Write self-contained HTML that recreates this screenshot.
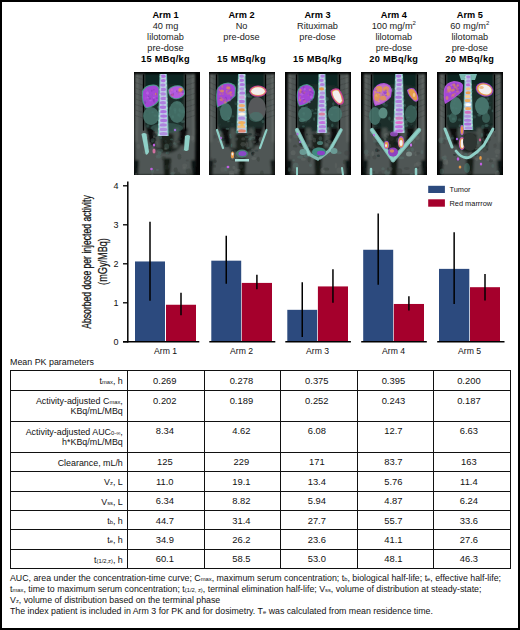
<!DOCTYPE html>
<html><head><meta charset="utf-8"><style>
*{margin:0;padding:0;box-sizing:border-box}
html,body{width:520px;height:630px;background:#fff;overflow:hidden}
body{position:relative;font-family:"Liberation Sans",sans-serif;color:#111}
.frame{position:absolute;left:0;top:0;width:520px;height:630px;border:2px solid #000;pointer-events:none}
.head{position:absolute;top:10.0px;width:80px;text-align:center;font-size:9.2px;line-height:11px;color:#222}
.head b{color:#000;font-weight:bold}
.head sup{font-size:6px;vertical-align:0;position:relative;top:-3.6px;line-height:0}
.scan{position:absolute;display:block}
.chart{position:absolute;overflow:visible}
.chart text{font-family:"Liberation Sans",sans-serif;fill:#111}
.tick{font-size:9px}
.arm{font-size:9.3px}
.leg{font-size:7.4px}
.ylab{font-size:12.3px;stroke:#111;stroke-width:0.25px}
.cap{position:absolute;left:10px;top:357.3px;font-size:8.9px;line-height:11px;color:#111}
.hr{position:absolute;left:9.7px;width:501.2px;height:1.3px;background:#111}
.vr{position:absolute;top:370.2px;height:199px;width:1.3px;background:#111}
.pcell{position:absolute;left:12px;width:110.8px;text-align:right;font-size:8.9px;line-height:10.6px;color:#111}
.vcell{position:absolute;width:60px;text-align:center;font-size:9.4px;line-height:11px;color:#111}
.sb{font-size:5.8px;vertical-align:0;line-height:1}
.mb{letter-spacing:0.35px}
.foot{position:absolute;left:10px;top:573.2px;font-size:8.8px;line-height:11.1px;color:#111;white-space:nowrap}
</style></head>
<body>
<div class="head" style="left:125.5px"><div class="hl"><b>Arm 1</b></div><div class="hl">40 mg</div><div class="hl">lilotomab</div><div class="hl">pre-dose</div><div class="hl"><b class="mb">15 MBq/kg</b></div></div><div class="head" style="left:201.5px"><div class="hl"><b>Arm 2</b></div><div class="hl">No</div><div class="hl">pre-dose</div><div class="hl">&nbsp;</div><div class="hl"><b class="mb">15 MBq/kg</b></div></div><div class="head" style="left:277.5px"><div class="hl"><b>Arm 3</b></div><div class="hl">Rituximab</div><div class="hl">pre-dose</div><div class="hl">&nbsp;</div><div class="hl"><b class="mb">15 MBq/kg</b></div></div><div class="head" style="left:353.8px"><div class="hl"><b>Arm 4</b></div><div class="hl">100 mg/m<sup>2</sup></div><div class="hl">lilotomab</div><div class="hl">pre-dose</div><div class="hl"><b class="mb">20 MBq/kg</b></div></div><div class="head" style="left:429.8px"><div class="hl"><b>Arm 5</b></div><div class="hl">60 mg/m<sup>2</sup></div><div class="hl">lilotomab</div><div class="hl">pre-dose</div><div class="hl"><b class="mb">20 MBq/kg</b></div></div>
<svg class="scan" style="left:134px;top:72px" width="66" height="103" viewBox="0 0 66 103"><defs><filter id="bb0" x="-10%" y="-10%" width="120%" height="120%"><feGaussianBlur stdDeviation="0.9"/></filter><filter id="fb0" x="-10%" y="-10%" width="120%" height="120%"><feGaussianBlur stdDeviation="0.6"/></filter></defs><rect width="66" height="103" fill="#020303"/><g filter="url(#bb0)"><path d="M1,2 L61,2 L61.5,60 L61,103 L1,103 L0.5,60 Z" fill="#4f5654"/><path d="M1.5,2 L3.5,2 L3,70 L1.5,70 Z" fill="#6a706e"/><path d="M58.5,2 L60.5,2 L60.5,70 L59,70 Z" fill="#6a706e"/><path d="M10,2 L51,2 L51,52 L48,60 L13,60 L10,52 Z" fill="#1f2e2b"/><path d="M10,2 L51,2 L51,15 Q33,10 10,15 Z" fill="#0f2724"/><ellipse cx="33" cy="71" rx="14" ry="10" fill="#1a201f"/><path d="M12,56 L20,56 L21,72 L16,74 Z" fill="#0b0e0e"/><path d="M46,56 L54,56 L50,74 L45,72 Z" fill="#0b0e0e"/><path d="M21,56 L26,56 L27,76 L22,76 Z" fill="#4a5250"/><path d="M40,56 L45,56 L44,76 L39,76 Z" fill="#4a5250"/><path d="M29,86 L37,86 L36,103 L30,103 Z" fill="#151a19"/><path d="M1,88 L5,88 L4,103 L1,103 Z" fill="#0e1212"/><path d="M57,88 L61,88 L61,103 L58,103 Z" fill="#0e1212"/></g><g filter="url(#fb0)"><line x1="1.5" y1="5.0" x2="8.5" y2="7.5" stroke="#2a2f2e" stroke-width="0.7" stroke-linecap="round" opacity="0.35"/><line x1="60.5" y1="5.0" x2="52.5" y2="7.5" stroke="#2a2f2e" stroke-width="0.7" stroke-linecap="round" opacity="0.35"/><line x1="1.5" y1="10.5" x2="8.5" y2="13.0" stroke="#2a2f2e" stroke-width="0.7" stroke-linecap="round" opacity="0.35"/><line x1="60.5" y1="10.5" x2="52.5" y2="13.0" stroke="#2a2f2e" stroke-width="0.7" stroke-linecap="round" opacity="0.35"/><line x1="1.5" y1="16.0" x2="8.5" y2="18.5" stroke="#2a2f2e" stroke-width="0.7" stroke-linecap="round" opacity="0.35"/><line x1="60.5" y1="16.0" x2="52.5" y2="18.5" stroke="#2a2f2e" stroke-width="0.7" stroke-linecap="round" opacity="0.35"/><line x1="1.5" y1="21.5" x2="8.5" y2="24.0" stroke="#2a2f2e" stroke-width="0.7" stroke-linecap="round" opacity="0.35"/><line x1="60.5" y1="21.5" x2="52.5" y2="24.0" stroke="#2a2f2e" stroke-width="0.7" stroke-linecap="round" opacity="0.35"/><line x1="1.5" y1="27.0" x2="8.5" y2="29.5" stroke="#2a2f2e" stroke-width="0.7" stroke-linecap="round" opacity="0.35"/><line x1="60.5" y1="27.0" x2="52.5" y2="29.5" stroke="#2a2f2e" stroke-width="0.7" stroke-linecap="round" opacity="0.35"/><line x1="1.5" y1="32.5" x2="8.5" y2="35.0" stroke="#2a2f2e" stroke-width="0.7" stroke-linecap="round" opacity="0.35"/><line x1="60.5" y1="32.5" x2="52.5" y2="35.0" stroke="#2a2f2e" stroke-width="0.7" stroke-linecap="round" opacity="0.35"/><line x1="1.5" y1="38.0" x2="8.5" y2="40.5" stroke="#2a2f2e" stroke-width="0.7" stroke-linecap="round" opacity="0.35"/><line x1="60.5" y1="38.0" x2="52.5" y2="40.5" stroke="#2a2f2e" stroke-width="0.7" stroke-linecap="round" opacity="0.35"/><line x1="1.5" y1="43.5" x2="8.5" y2="46.0" stroke="#2a2f2e" stroke-width="0.7" stroke-linecap="round" opacity="0.35"/><line x1="60.5" y1="43.5" x2="52.5" y2="46.0" stroke="#2a2f2e" stroke-width="0.7" stroke-linecap="round" opacity="0.35"/><line x1="9.5" y1="3" x2="9.5" y2="58" stroke="#050606" stroke-width="1.3" stroke-linecap="round"/><line x1="51.5" y1="3" x2="51.5" y2="58" stroke="#050606" stroke-width="1.3" stroke-linecap="round"/><ellipse cx="16.7" cy="35.1" rx="1.9" ry="1.8" fill="#101816" opacity="0.4"/><ellipse cx="27.9" cy="49.6" rx="1.5" ry="0.9" fill="#3e6660" opacity="0.4"/><ellipse cx="21.3" cy="43.7" rx="1.7" ry="1.1" fill="#4a7a74" opacity="0.4"/><ellipse cx="23.1" cy="48.3" rx="1.1" ry="1.0" fill="#4a7a74" opacity="0.4"/><ellipse cx="45.8" cy="31.5" rx="1.4" ry="2.0" fill="#3e6660" opacity="0.4"/><ellipse cx="48.3" cy="39.3" rx="2.1" ry="1.9" fill="#4a7a74" opacity="0.4"/><ellipse cx="44.4" cy="42.8" rx="1.1" ry="1.6" fill="#4a7a74" opacity="0.4"/><ellipse cx="41.2" cy="39.8" rx="1.1" ry="2.0" fill="#4a7a74" opacity="0.4"/><ellipse cx="48.8" cy="49.6" rx="2.1" ry="1.3" fill="#5a8a82" opacity="0.4"/><ellipse cx="32.6" cy="56.7" rx="1.7" ry="1.8" fill="#5a8a82" opacity="0.4"/><ellipse cx="38.8" cy="45.0" rx="1.3" ry="1.8" fill="#5a8a82" opacity="0.4"/><ellipse cx="44.3" cy="31.2" rx="1.5" ry="1.9" fill="#2a3f3c" opacity="0.4"/><ellipse cx="45.7" cy="43.4" rx="1.2" ry="2.0" fill="#3e6660" opacity="0.4"/><ellipse cx="40.9" cy="37.6" rx="1.5" ry="1.6" fill="#4a7a74" opacity="0.4"/><ellipse cx="13.3" cy="40.6" rx="1.3" ry="0.9" fill="#101816" opacity="0.4"/><ellipse cx="38.5" cy="21.1" rx="0.9" ry="1.6" fill="#4a7a74" opacity="0.4"/><ellipse cx="45.6" cy="38.0" rx="1.1" ry="1.9" fill="#5a8a82" opacity="0.4"/><ellipse cx="24.9" cy="35.1" rx="1.8" ry="1.5" fill="#5a8a82" opacity="0.4"/><ellipse cx="15.6" cy="41.0" rx="0.9" ry="1.8" fill="#2a3f3c" opacity="0.4"/><ellipse cx="26.6" cy="46.0" rx="1.7" ry="1.7" fill="#3e6660" opacity="0.4"/><ellipse cx="47.5" cy="17.6" rx="1.4" ry="0.9" fill="#3e6660" opacity="0.4"/><ellipse cx="45.0" cy="18.0" rx="1.1" ry="1.1" fill="#2a3f3c" opacity="0.4"/><ellipse cx="12.5" cy="24.9" rx="0.9" ry="1.2" fill="#3e6660" opacity="0.4"/><ellipse cx="12.4" cy="33.9" rx="1.4" ry="1.8" fill="#5a8a82" opacity="0.4"/><ellipse cx="18.6" cy="40.3" rx="1.2" ry="1.0" fill="#4a7a74" opacity="0.4"/><ellipse cx="43.3" cy="19.3" rx="2.2" ry="1.2" fill="#3e6660" opacity="0.4"/><ellipse cx="44.1" cy="51.4" rx="0.9" ry="1.1" fill="#2a3f3c" opacity="0.4"/><ellipse cx="26.2" cy="27.4" rx="1.2" ry="1.2" fill="#2a3f3c" opacity="0.4"/><ellipse cx="49.7" cy="39.5" rx="1.1" ry="0.8" fill="#2a3f3c" opacity="0.4"/><ellipse cx="19.6" cy="43.1" rx="1.8" ry="0.8" fill="#2a3f3c" opacity="0.4"/><ellipse cx="43.0" cy="30.8" rx="1.7" ry="1.4" fill="#4a7a74" opacity="0.4"/><ellipse cx="46.3" cy="19.5" rx="1.8" ry="2.0" fill="#5a8a82" opacity="0.4"/><ellipse cx="16.6" cy="53.4" rx="0.8" ry="1.8" fill="#101816" opacity="0.4"/><ellipse cx="30.8" cy="23.3" rx="1.3" ry="1.4" fill="#4a7a74" opacity="0.4"/><ellipse cx="46.5" cy="41.2" rx="1.6" ry="2.1" fill="#2a3f3c" opacity="0.4"/><ellipse cx="35.4" cy="42.6" rx="1.0" ry="1.6" fill="#5a8a82" opacity="0.4"/><ellipse cx="30.7" cy="43.4" rx="1.0" ry="1.0" fill="#5a8a82" opacity="0.4"/><ellipse cx="19.7" cy="32.5" rx="1.4" ry="1.8" fill="#2a3f3c" opacity="0.4"/><ellipse cx="13.7" cy="54.1" rx="1.4" ry="1.6" fill="#3e6660" opacity="0.4"/><ellipse cx="15.1" cy="19.7" rx="1.7" ry="0.9" fill="#5a8a82" opacity="0.4"/><ellipse cx="43.6" cy="22.2" rx="2.2" ry="1.6" fill="#4a7a74" opacity="0.4"/><ellipse cx="17.6" cy="55.9" rx="1.8" ry="1.3" fill="#2a3f3c" opacity="0.4"/><ellipse cx="36.2" cy="36.3" rx="1.3" ry="1.7" fill="#3e6660" opacity="0.4"/><ellipse cx="46.7" cy="27.8" rx="1.8" ry="1.9" fill="#101816" opacity="0.4"/><ellipse cx="19.9" cy="54.4" rx="1.1" ry="1.0" fill="#2a3f3c" opacity="0.4"/><ellipse cx="18.8" cy="75.9" rx="0.9" ry="1.5" fill="#5a6260" opacity="0.4"/><ellipse cx="21.7" cy="63.0" rx="2.1" ry="2.0" fill="#0e1414" opacity="0.4"/><ellipse cx="15.1" cy="73.6" rx="2.1" ry="1.9" fill="#4a7a74" opacity="0.4"/><ellipse cx="15.5" cy="74.7" rx="1.1" ry="2.2" fill="#2a3a38" opacity="0.4"/><ellipse cx="18.3" cy="70.1" rx="1.2" ry="1.7" fill="#2a3a38" opacity="0.4"/><ellipse cx="25.6" cy="81.4" rx="1.8" ry="2.1" fill="#4a7a74" opacity="0.4"/><ellipse cx="26.4" cy="65.4" rx="1.6" ry="1.7" fill="#4a7a74" opacity="0.4"/><ellipse cx="49.5" cy="77.7" rx="0.9" ry="1.2" fill="#4a7a74" opacity="0.4"/><ellipse cx="25.9" cy="65.4" rx="1.0" ry="2.1" fill="#2a3a38" opacity="0.4"/><ellipse cx="21.8" cy="73.4" rx="1.5" ry="1.6" fill="#2a3a38" opacity="0.4"/><ellipse cx="45.7" cy="71.7" rx="1.3" ry="0.9" fill="#2a3a38" opacity="0.4"/><ellipse cx="30.2" cy="70.4" rx="1.1" ry="1.1" fill="#0e1414" opacity="0.4"/><ellipse cx="23.6" cy="83.0" rx="1.4" ry="2.1" fill="#5a6260" opacity="0.4"/><ellipse cx="23.9" cy="62.6" rx="1.2" ry="2.0" fill="#4a7a74" opacity="0.4"/><ellipse cx="16.0" cy="71.2" rx="1.8" ry="1.0" fill="#5a6260" opacity="0.4"/><ellipse cx="28.1" cy="79.0" rx="1.5" ry="1.4" fill="#2a3a38" opacity="0.4"/><ellipse cx="31.7" cy="69.4" rx="1.2" ry="1.6" fill="#2a3a38" opacity="0.4"/><ellipse cx="44.0" cy="69.8" rx="2.1" ry="1.2" fill="#5a6260" opacity="0.4"/><ellipse cx="35.9" cy="77.9" rx="1.2" ry="1.4" fill="#0e1414" opacity="0.4"/><ellipse cx="20.0" cy="64.8" rx="1.1" ry="1.5" fill="#5a6260" opacity="0.4"/><ellipse cx="37.5" cy="67.4" rx="1.5" ry="0.9" fill="#4a7a74" opacity="0.4"/><ellipse cx="20.7" cy="67.4" rx="0.8" ry="1.9" fill="#0e1414" opacity="0.4"/><ellipse cx="45.7" cy="66.8" rx="2.1" ry="1.3" fill="#2a3a38" opacity="0.4"/><ellipse cx="36.6" cy="72.5" rx="1.8" ry="2.0" fill="#2a3a38" opacity="0.4"/><ellipse cx="33.3" cy="81.0" rx="1.8" ry="1.3" fill="#4a7a74" opacity="0.4"/><ellipse cx="25.4" cy="61.7" rx="2.9" ry="2.9" fill="#5a7a76" opacity="0.35"/><ellipse cx="43.7" cy="102.2" rx="2.7" ry="2.6" fill="#2a302e" opacity="0.35"/><ellipse cx="38.4" cy="101.5" rx="2.0" ry="1.6" fill="#5a7a76" opacity="0.35"/><ellipse cx="41.7" cy="97.9" rx="2.0" ry="2.3" fill="#2a302e" opacity="0.35"/><ellipse cx="12.6" cy="63.9" rx="2.0" ry="2.3" fill="#707674" opacity="0.35"/><ellipse cx="32.7" cy="74.6" rx="2.4" ry="3.0" fill="#5a7a76" opacity="0.35"/><ellipse cx="4.3" cy="74.3" rx="1.8" ry="2.6" fill="#646a68" opacity="0.35"/><ellipse cx="50.7" cy="94.0" rx="2.5" ry="2.4" fill="#646a68" opacity="0.35"/><ellipse cx="23.4" cy="98.1" rx="1.6" ry="1.0" fill="#5a7a76" opacity="0.35"/><ellipse cx="18.7" cy="68.5" rx="1.9" ry="2.3" fill="#5a7a76" opacity="0.35"/><ellipse cx="51.1" cy="65.4" rx="1.3" ry="2.6" fill="#2a302e" opacity="0.35"/><ellipse cx="24.6" cy="61.1" rx="1.8" ry="1.2" fill="#5a7a76" opacity="0.35"/><ellipse cx="57.5" cy="66.1" rx="2.7" ry="2.5" fill="#707674" opacity="0.35"/><ellipse cx="50.1" cy="96.0" rx="1.8" ry="1.6" fill="#646a68" opacity="0.35"/><ellipse cx="24.3" cy="84.7" rx="2.6" ry="1.9" fill="#5a7a76" opacity="0.35"/><ellipse cx="35.1" cy="93.4" rx="1.1" ry="2.5" fill="#3a403e" opacity="0.35"/><ellipse cx="31.5" cy="76.7" rx="1.4" ry="1.2" fill="#707674" opacity="0.35"/><ellipse cx="40.9" cy="71.5" rx="2.0" ry="1.3" fill="#5a7a76" opacity="0.35"/><ellipse cx="29.7" cy="86.4" rx="2.1" ry="2.3" fill="#2a302e" opacity="0.35"/><ellipse cx="22.3" cy="72.0" rx="1.8" ry="3.0" fill="#646a68" opacity="0.35"/><ellipse cx="2.0" cy="102.1" rx="1.1" ry="1.7" fill="#646a68" opacity="0.35"/><ellipse cx="25.9" cy="78.8" rx="3.0" ry="2.0" fill="#5a7a76" opacity="0.35"/><ellipse cx="22.8" cy="60.5" rx="1.8" ry="2.0" fill="#646a68" opacity="0.35"/><ellipse cx="53.2" cy="88.5" rx="1.5" ry="1.1" fill="#3a403e" opacity="0.35"/><ellipse cx="32.6" cy="95.1" rx="2.7" ry="2.5" fill="#2a302e" opacity="0.35"/><ellipse cx="54.4" cy="99.3" rx="2.6" ry="2.8" fill="#2a302e" opacity="0.35"/><ellipse cx="36.2" cy="89.0" rx="1.4" ry="2.3" fill="#2a302e" opacity="0.35"/><ellipse cx="45.3" cy="84.7" rx="2.0" ry="2.9" fill="#2a302e" opacity="0.35"/><ellipse cx="20.3" cy="73.8" rx="1.6" ry="1.2" fill="#2a302e" opacity="0.35"/><ellipse cx="57.3" cy="102.1" rx="2.3" ry="1.5" fill="#2a302e" opacity="0.35"/><ellipse cx="10.5" cy="80.2" rx="1.3" ry="1.7" fill="#707674" opacity="0.35"/><ellipse cx="44.1" cy="70.4" rx="2.8" ry="2.4" fill="#2a302e" opacity="0.35"/><ellipse cx="18.5" cy="99.0" rx="1.6" ry="2.1" fill="#5a7a76" opacity="0.35"/><ellipse cx="18.3" cy="102.8" rx="1.1" ry="1.8" fill="#646a68" opacity="0.35"/><ellipse cx="34.5" cy="80.7" rx="1.6" ry="1.8" fill="#3a403e" opacity="0.35"/></g><g filter="url(#fb0)"><ellipse cx="17" cy="44" rx="8" ry="9" fill="#4a7a72" opacity="0.8"/><ellipse cx="43" cy="40" rx="8" ry="11" fill="#4a7a72" opacity="0.8"/><ellipse cx="33" cy="56" rx="16" ry="5" fill="#3b625c" opacity="0.6"/><path d="M8,19 Q11,12 20,12.5 Q25,13 25.5,17 L25,29 Q21,35 12,36.5 Q7,32 8,19 Z" fill="#4c9a8c"/><path d="M9,19.5 Q12,13.5 20,13.5 Q24,14 24.5,17.5 L24,28.5 Q20,34 12.5,35.5 Q8,31 9,19.5 Z" fill="#a446d6"/><ellipse cx="22" cy="22" rx="1.2" ry="1.2" fill="#e49a4a" opacity="0.7"/><ellipse cx="11.5" cy="26.2" rx="1.1" ry="1.5" fill="#b050d8" opacity="0.5"/><ellipse cx="18.8" cy="32.3" rx="1.2" ry="1.4" fill="#b050d8" opacity="0.5"/><ellipse cx="19.7" cy="27.1" rx="1.1" ry="1.5" fill="#7a3ab0" opacity="0.5"/><ellipse cx="12.9" cy="18.2" rx="1.6" ry="1.3" fill="#b050d8" opacity="0.5"/><ellipse cx="14.4" cy="21.4" rx="1.4" ry="0.7" fill="#7a3ab0" opacity="0.5"/><ellipse cx="22.9" cy="26.1" rx="1.4" ry="0.9" fill="#7a3ab0" opacity="0.5"/><ellipse cx="13.9" cy="21.6" rx="1.2" ry="1.1" fill="#c070e8" opacity="0.5"/><ellipse cx="14.0" cy="18.2" rx="1.0" ry="1.2" fill="#8a60c0" opacity="0.5"/><ellipse cx="18.3" cy="22.8" rx="0.9" ry="0.8" fill="#8a60c0" opacity="0.5"/><ellipse cx="16.0" cy="26.6" rx="1.0" ry="1.4" fill="#7a3ab0" opacity="0.5"/><ellipse cx="11.3" cy="30.4" rx="0.8" ry="1.5" fill="#7a3ab0" opacity="0.5"/><ellipse cx="20.6" cy="26.0" rx="1.0" ry="1.2" fill="#b050d8" opacity="0.5"/><ellipse cx="18.3" cy="31.8" rx="0.7" ry="0.9" fill="#8a60c0" opacity="0.5"/><ellipse cx="22.4" cy="22.1" rx="0.7" ry="1.3" fill="#7a3ab0" opacity="0.5"/><ellipse cx="21.3" cy="24.5" rx="0.8" ry="1.2" fill="#b050d8" opacity="0.5"/><ellipse cx="13.6" cy="25.4" rx="1.0" ry="1.0" fill="#c070e8" opacity="0.5"/><ellipse cx="11.0" cy="30.1" rx="0.9" ry="1.6" fill="#7a3ab0" opacity="0.5"/><ellipse cx="17.8" cy="18.8" rx="0.8" ry="1.0" fill="#7a3ab0" opacity="0.5"/><ellipse cx="19.9" cy="17.7" rx="0.6" ry="0.7" fill="#7a3ab0" opacity="0.5"/><ellipse cx="15.9" cy="24.4" rx="1.4" ry="1.0" fill="#8a60c0" opacity="0.5"/><ellipse cx="19.4" cy="26.1" rx="0.6" ry="1.0" fill="#c070e8" opacity="0.5"/><ellipse cx="14.7" cy="21.5" rx="1.4" ry="0.7" fill="#b050d8" opacity="0.5"/><ellipse cx="12.3" cy="29.2" rx="1.5" ry="1.4" fill="#8a60c0" opacity="0.5"/><ellipse cx="16.5" cy="28.4" rx="1.3" ry="1.0" fill="#c070e8" opacity="0.5"/><ellipse cx="14.6" cy="24.3" rx="0.7" ry="0.6" fill="#7a3ab0" opacity="0.5"/><ellipse cx="19.8" cy="22.9" rx="0.9" ry="1.4" fill="#b050d8" opacity="0.5"/><ellipse cx="13.4" cy="20.9" rx="1.5" ry="1.6" fill="#c070e8" opacity="0.5"/><ellipse cx="19.9" cy="28.9" rx="0.9" ry="1.5" fill="#7a3ab0" opacity="0.5"/><ellipse cx="16.8" cy="25.2" rx="1.0" ry="0.8" fill="#8a60c0" opacity="0.5"/><ellipse cx="20.1" cy="25.5" rx="0.7" ry="0.7" fill="#c070e8" opacity="0.5"/><path d="M34,18 Q38,12.5 46,13.5 Q51,15 51,22 Q48,28 40,27 Q34,25 34,18 Z" fill="#4c9a8c"/><path d="M35,18 Q39,13.5 46,14.5 Q50,16 50,22 Q47,27 40,26 Q35,24 35,18 Z" fill="#b35ae0"/><ellipse cx="46.5" cy="18" rx="2.3" ry="2" fill="#e49a4a"/><ellipse cx="38" cy="23" rx="1.5" ry="1.5" fill="#c05ab0"/><ellipse cx="36.4" cy="20.6" rx="0.9" ry="1.0" fill="#d06090" opacity="0.5"/><ellipse cx="46.9" cy="19.9" rx="1.4" ry="1.3" fill="#d06090" opacity="0.5"/><ellipse cx="37.8" cy="17.8" rx="1.2" ry="1.6" fill="#d06090" opacity="0.5"/><ellipse cx="39.3" cy="22.2" rx="0.7" ry="1.4" fill="#7a3ab0" opacity="0.5"/><ellipse cx="47.2" cy="21.9" rx="1.3" ry="1.4" fill="#c070e8" opacity="0.5"/><ellipse cx="47.7" cy="22.5" rx="1.1" ry="0.7" fill="#d06090" opacity="0.5"/><ellipse cx="48.8" cy="19.6" rx="1.3" ry="1.6" fill="#7a3ab0" opacity="0.5"/><ellipse cx="35.6" cy="18.8" rx="0.8" ry="1.3" fill="#d06090" opacity="0.5"/><ellipse cx="44.7" cy="20.7" rx="1.0" ry="1.0" fill="#7a3ab0" opacity="0.5"/><ellipse cx="38.0" cy="18.0" rx="1.1" ry="1.2" fill="#c070e8" opacity="0.5"/><ellipse cx="44.7" cy="21.1" rx="0.9" ry="1.5" fill="#d06090" opacity="0.5"/><ellipse cx="44.9" cy="17.7" rx="0.7" ry="0.8" fill="#c070e8" opacity="0.5"/><ellipse cx="38.7" cy="22.7" rx="0.8" ry="1.0" fill="#d06090" opacity="0.5"/><ellipse cx="42.8" cy="19.3" rx="0.8" ry="1.0" fill="#7a3ab0" opacity="0.5"/><ellipse cx="37.3" cy="22.8" rx="1.4" ry="0.8" fill="#7a3ab0" opacity="0.5"/><ellipse cx="45.2" cy="21.2" rx="0.9" ry="0.9" fill="#c070e8" opacity="0.5"/><ellipse cx="41.0" cy="19.1" rx="1.0" ry="0.9" fill="#c070e8" opacity="0.5"/><ellipse cx="36.4" cy="21.1" rx="0.8" ry="1.6" fill="#c070e8" opacity="0.5"/><path d="M25.5,2 L33.0,2 L34.7,64 L23.8,64 Z" fill="#6cb0a8"/><path d="M26.5,2 L32.0,2 L33.7,64 L24.8,64 Z" fill="#bccbe4"/><ellipse cx="29.1" cy="4.2" rx="2.5" ry="1.7" fill="#a862dc" opacity="0.83"/><ellipse cx="26.6" cy="4.6" rx="0.9" ry="1.2" fill="#bfe6dc" opacity="0.7"/><ellipse cx="29.3" cy="8.6" rx="2.6" ry="1.7" fill="#a862dc" opacity="0.83"/><ellipse cx="32.0" cy="9.5" rx="0.9" ry="1.2" fill="#bfe6dc" opacity="0.7"/><ellipse cx="29.0" cy="13.1" rx="2.8" ry="1.7" fill="#a862dc" opacity="0.65"/><ellipse cx="32.1" cy="13.4" rx="0.9" ry="1.2" fill="#bfe6dc" opacity="0.7"/><ellipse cx="29.3" cy="17.5" rx="2.9" ry="1.7" fill="#a862dc" opacity="0.76"/><ellipse cx="26.3" cy="17.4" rx="0.9" ry="1.2" fill="#bfe6dc" opacity="0.7"/><ellipse cx="28.9" cy="21.9" rx="3.0" ry="1.7" fill="#a862dc" opacity="0.66"/><ellipse cx="26.2" cy="22.6" rx="0.9" ry="1.2" fill="#bfe6dc" opacity="0.7"/><ellipse cx="29.6" cy="26.4" rx="3.1" ry="1.7" fill="#a862dc" opacity="0.76"/><ellipse cx="32.5" cy="26.8" rx="0.9" ry="1.2" fill="#bfe6dc" opacity="0.7"/><ellipse cx="29.0" cy="30.8" rx="3.2" ry="1.7" fill="#a862dc" opacity="0.73"/><ellipse cx="32.6" cy="30.5" rx="0.9" ry="1.2" fill="#bfe6dc" opacity="0.7"/><ellipse cx="29.0" cy="35.2" rx="3.4" ry="1.7" fill="#a862dc" opacity="0.83"/><ellipse cx="32.7" cy="35.9" rx="0.9" ry="1.2" fill="#bfe6dc" opacity="0.7"/><ellipse cx="29.1" cy="39.6" rx="3.5" ry="1.7" fill="#a862dc" opacity="0.84"/><ellipse cx="25.7" cy="39.1" rx="0.9" ry="1.2" fill="#bfe6dc" opacity="0.7"/><ellipse cx="29.6" cy="44.1" rx="3.6" ry="1.7" fill="#a862dc" opacity="0.80"/><ellipse cx="25.5" cy="44.1" rx="0.9" ry="1.2" fill="#bfe6dc" opacity="0.7"/><ellipse cx="29.6" cy="48.5" rx="3.7" ry="1.7" fill="#a862dc" opacity="0.82"/><ellipse cx="25.4" cy="48.5" rx="0.9" ry="1.2" fill="#bfe6dc" opacity="0.7"/><ellipse cx="29.1" cy="52.9" rx="3.8" ry="1.7" fill="#a862dc" opacity="0.68"/><ellipse cx="25.3" cy="52.5" rx="0.9" ry="1.2" fill="#bfe6dc" opacity="0.7"/><ellipse cx="29.3" cy="57.4" rx="4.0" ry="1.7" fill="#a862dc" opacity="0.57"/><ellipse cx="25.2" cy="57.1" rx="0.9" ry="1.2" fill="#bfe6dc" opacity="0.7"/><ellipse cx="29.5" cy="61.8" rx="4.1" ry="1.7" fill="#a862dc" opacity="0.59"/><ellipse cx="25.1" cy="62.8" rx="0.9" ry="1.2" fill="#bfe6dc" opacity="0.7"/><path d="M7.5,62 Q10,60 12.5,62 L15,80 Q13,84 11.5,82 Z" fill="#8fd0c7"/><path d="M51,64 Q54,62 56,64 L54.5,78 Q52,80 50,78 Z" fill="#8fd0c7"/><ellipse cx="20" cy="73" rx="1.2" ry="1.5" fill="#c060e0"/><ellipse cx="20" cy="79" rx="1.5" ry="2.5" fill="#d070a0"/><ellipse cx="17.5" cy="97" rx="1.3" ry="1.3" fill="#c060e0"/><ellipse cx="41" cy="58" rx="1.2" ry="1.2" fill="#a070e0"/></g></svg><svg class="scan" style="left:209px;top:72px" width="66" height="103" viewBox="0 0 66 103"><defs><filter id="bb1" x="-10%" y="-10%" width="120%" height="120%"><feGaussianBlur stdDeviation="0.9"/></filter><filter id="fb1" x="-10%" y="-10%" width="120%" height="120%"><feGaussianBlur stdDeviation="0.6"/></filter></defs><rect width="66" height="103" fill="#020303"/><g filter="url(#bb1)"><path d="M0.5,2 L65.5,2 L66.0,60 L65.5,103 L0.5,103 L0.0,60 Z" fill="#4f5654"/><path d="M1.0,2 L3.0,2 L2.5,70 L1.0,70 Z" fill="#6a706e"/><path d="M63.0,2 L65.0,2 L65.0,70 L63.5,70 Z" fill="#6a706e"/><path d="M8,2 L56,2 L56,52 L53,60 L11,60 L8,52 Z" fill="#1f2e2b"/><path d="M8,2 L56,2 L56,15 Q33,10 8,15 Z" fill="#0f2724"/><ellipse cx="33" cy="71" rx="14" ry="10" fill="#1a201f"/><path d="M12,56 L20,56 L21,72 L16,74 Z" fill="#0b0e0e"/><path d="M46,56 L54,56 L50,74 L45,72 Z" fill="#0b0e0e"/><path d="M21,56 L26,56 L27,76 L22,76 Z" fill="#4a5250"/><path d="M40,56 L45,56 L44,76 L39,76 Z" fill="#4a5250"/><path d="M29,86 L37,86 L36,103 L30,103 Z" fill="#151a19"/><path d="M0.5,88 L4.5,88 L3.5,103 L0.5,103 Z" fill="#0e1212"/><path d="M61.5,88 L65.5,88 L65.5,103 L62.5,103 Z" fill="#0e1212"/></g><g filter="url(#fb1)"><line x1="1.0" y1="5.0" x2="6.5" y2="7.5" stroke="#2a2f2e" stroke-width="0.7" stroke-linecap="round" opacity="0.35"/><line x1="65.0" y1="5.0" x2="57.5" y2="7.5" stroke="#2a2f2e" stroke-width="0.7" stroke-linecap="round" opacity="0.35"/><line x1="1.0" y1="10.5" x2="6.5" y2="13.0" stroke="#2a2f2e" stroke-width="0.7" stroke-linecap="round" opacity="0.35"/><line x1="65.0" y1="10.5" x2="57.5" y2="13.0" stroke="#2a2f2e" stroke-width="0.7" stroke-linecap="round" opacity="0.35"/><line x1="1.0" y1="16.0" x2="6.5" y2="18.5" stroke="#2a2f2e" stroke-width="0.7" stroke-linecap="round" opacity="0.35"/><line x1="65.0" y1="16.0" x2="57.5" y2="18.5" stroke="#2a2f2e" stroke-width="0.7" stroke-linecap="round" opacity="0.35"/><line x1="1.0" y1="21.5" x2="6.5" y2="24.0" stroke="#2a2f2e" stroke-width="0.7" stroke-linecap="round" opacity="0.35"/><line x1="65.0" y1="21.5" x2="57.5" y2="24.0" stroke="#2a2f2e" stroke-width="0.7" stroke-linecap="round" opacity="0.35"/><line x1="1.0" y1="27.0" x2="6.5" y2="29.5" stroke="#2a2f2e" stroke-width="0.7" stroke-linecap="round" opacity="0.35"/><line x1="65.0" y1="27.0" x2="57.5" y2="29.5" stroke="#2a2f2e" stroke-width="0.7" stroke-linecap="round" opacity="0.35"/><line x1="1.0" y1="32.5" x2="6.5" y2="35.0" stroke="#2a2f2e" stroke-width="0.7" stroke-linecap="round" opacity="0.35"/><line x1="65.0" y1="32.5" x2="57.5" y2="35.0" stroke="#2a2f2e" stroke-width="0.7" stroke-linecap="round" opacity="0.35"/><line x1="1.0" y1="38.0" x2="6.5" y2="40.5" stroke="#2a2f2e" stroke-width="0.7" stroke-linecap="round" opacity="0.35"/><line x1="65.0" y1="38.0" x2="57.5" y2="40.5" stroke="#2a2f2e" stroke-width="0.7" stroke-linecap="round" opacity="0.35"/><line x1="1.0" y1="43.5" x2="6.5" y2="46.0" stroke="#2a2f2e" stroke-width="0.7" stroke-linecap="round" opacity="0.35"/><line x1="65.0" y1="43.5" x2="57.5" y2="46.0" stroke="#2a2f2e" stroke-width="0.7" stroke-linecap="round" opacity="0.35"/><line x1="7.5" y1="3" x2="7.5" y2="58" stroke="#050606" stroke-width="1.3" stroke-linecap="round"/><line x1="56.5" y1="3" x2="56.5" y2="58" stroke="#050606" stroke-width="1.3" stroke-linecap="round"/><ellipse cx="35.7" cy="24.2" rx="2.2" ry="2.1" fill="#3e6660" opacity="0.4"/><ellipse cx="11.2" cy="37.1" rx="1.6" ry="2.1" fill="#3e6660" opacity="0.4"/><ellipse cx="40.9" cy="24.9" rx="2.2" ry="0.9" fill="#4a7a74" opacity="0.4"/><ellipse cx="16.4" cy="34.7" rx="1.6" ry="1.1" fill="#101816" opacity="0.4"/><ellipse cx="20.0" cy="49.2" rx="1.4" ry="0.9" fill="#3e6660" opacity="0.4"/><ellipse cx="23.0" cy="20.7" rx="2.0" ry="1.8" fill="#101816" opacity="0.4"/><ellipse cx="27.2" cy="31.9" rx="1.4" ry="1.4" fill="#3e6660" opacity="0.4"/><ellipse cx="9.3" cy="35.5" rx="1.5" ry="1.3" fill="#2a3f3c" opacity="0.4"/><ellipse cx="26.1" cy="31.1" rx="1.2" ry="1.9" fill="#2a3f3c" opacity="0.4"/><ellipse cx="28.9" cy="27.7" rx="1.9" ry="1.4" fill="#101816" opacity="0.4"/><ellipse cx="50.2" cy="39.9" rx="1.0" ry="2.0" fill="#5a8a82" opacity="0.4"/><ellipse cx="23.3" cy="52.5" rx="1.8" ry="1.8" fill="#2a3f3c" opacity="0.4"/><ellipse cx="52.9" cy="18.8" rx="1.6" ry="1.5" fill="#3e6660" opacity="0.4"/><ellipse cx="47.6" cy="21.0" rx="1.8" ry="1.9" fill="#3e6660" opacity="0.4"/><ellipse cx="45.4" cy="21.9" rx="1.1" ry="1.9" fill="#5a8a82" opacity="0.4"/><ellipse cx="29.5" cy="53.4" rx="1.0" ry="2.1" fill="#101816" opacity="0.4"/><ellipse cx="24.5" cy="18.8" rx="1.6" ry="1.8" fill="#101816" opacity="0.4"/><ellipse cx="30.3" cy="24.1" rx="1.8" ry="1.3" fill="#101816" opacity="0.4"/><ellipse cx="52.1" cy="26.5" rx="1.1" ry="1.0" fill="#101816" opacity="0.4"/><ellipse cx="20.2" cy="27.8" rx="2.2" ry="1.0" fill="#2a3f3c" opacity="0.4"/><ellipse cx="38.1" cy="52.0" rx="1.4" ry="1.6" fill="#101816" opacity="0.4"/><ellipse cx="20.0" cy="27.5" rx="1.7" ry="1.6" fill="#5a8a82" opacity="0.4"/><ellipse cx="23.5" cy="16.8" rx="1.0" ry="1.3" fill="#101816" opacity="0.4"/><ellipse cx="50.1" cy="32.8" rx="0.9" ry="1.1" fill="#2a3f3c" opacity="0.4"/><ellipse cx="18.9" cy="43.9" rx="1.0" ry="1.0" fill="#2a3f3c" opacity="0.4"/><ellipse cx="29.6" cy="43.9" rx="1.7" ry="1.8" fill="#101816" opacity="0.4"/><ellipse cx="32.6" cy="42.3" rx="1.1" ry="1.4" fill="#5a8a82" opacity="0.4"/><ellipse cx="23.6" cy="44.4" rx="1.8" ry="1.1" fill="#3e6660" opacity="0.4"/><ellipse cx="18.4" cy="56.9" rx="1.9" ry="1.1" fill="#5a8a82" opacity="0.4"/><ellipse cx="54.7" cy="47.1" rx="1.4" ry="1.7" fill="#101816" opacity="0.4"/><ellipse cx="34.4" cy="24.6" rx="0.8" ry="2.1" fill="#5a8a82" opacity="0.4"/><ellipse cx="51.4" cy="18.4" rx="1.4" ry="1.4" fill="#101816" opacity="0.4"/><ellipse cx="44.4" cy="56.1" rx="1.5" ry="1.9" fill="#2a3f3c" opacity="0.4"/><ellipse cx="10.6" cy="52.5" rx="1.6" ry="1.0" fill="#2a3f3c" opacity="0.4"/><ellipse cx="53.9" cy="49.5" rx="1.3" ry="1.8" fill="#4a7a74" opacity="0.4"/><ellipse cx="30.6" cy="57.0" rx="1.0" ry="0.8" fill="#101816" opacity="0.4"/><ellipse cx="19.0" cy="49.4" rx="0.9" ry="1.1" fill="#4a7a74" opacity="0.4"/><ellipse cx="39.0" cy="23.2" rx="2.1" ry="1.9" fill="#4a7a74" opacity="0.4"/><ellipse cx="29.6" cy="17.6" rx="1.1" ry="1.5" fill="#5a8a82" opacity="0.4"/><ellipse cx="49.5" cy="20.4" rx="1.5" ry="0.8" fill="#5a8a82" opacity="0.4"/><ellipse cx="50.6" cy="40.2" rx="1.5" ry="1.0" fill="#2a3f3c" opacity="0.4"/><ellipse cx="54.5" cy="34.8" rx="1.6" ry="2.0" fill="#5a8a82" opacity="0.4"/><ellipse cx="36.7" cy="57.7" rx="1.4" ry="1.0" fill="#2a3f3c" opacity="0.4"/><ellipse cx="14.4" cy="44.8" rx="0.9" ry="0.9" fill="#101816" opacity="0.4"/><ellipse cx="19.8" cy="46.4" rx="1.3" ry="1.6" fill="#4a7a74" opacity="0.4"/><ellipse cx="44.3" cy="81.3" rx="1.8" ry="1.8" fill="#0e1414" opacity="0.4"/><ellipse cx="40.5" cy="67.3" rx="1.3" ry="1.1" fill="#4a7a74" opacity="0.4"/><ellipse cx="21.6" cy="65.3" rx="1.0" ry="1.4" fill="#4a7a74" opacity="0.4"/><ellipse cx="47.6" cy="78.7" rx="1.9" ry="1.1" fill="#2a3a38" opacity="0.4"/><ellipse cx="22.5" cy="73.6" rx="0.8" ry="2.0" fill="#4a7a74" opacity="0.4"/><ellipse cx="23.7" cy="80.1" rx="1.8" ry="2.1" fill="#0e1414" opacity="0.4"/><ellipse cx="43.4" cy="81.8" rx="1.4" ry="2.1" fill="#0e1414" opacity="0.4"/><ellipse cx="46.3" cy="63.2" rx="1.7" ry="0.9" fill="#2a3a38" opacity="0.4"/><ellipse cx="28.1" cy="80.8" rx="0.9" ry="2.1" fill="#2a3a38" opacity="0.4"/><ellipse cx="27.5" cy="67.1" rx="1.3" ry="1.5" fill="#5a6260" opacity="0.4"/><ellipse cx="45.7" cy="82.2" rx="1.1" ry="1.8" fill="#5a6260" opacity="0.4"/><ellipse cx="24.2" cy="83.4" rx="1.8" ry="1.8" fill="#0e1414" opacity="0.4"/><ellipse cx="46.4" cy="65.0" rx="1.0" ry="1.7" fill="#0e1414" opacity="0.4"/><ellipse cx="48.9" cy="71.3" rx="2.0" ry="0.9" fill="#2a3a38" opacity="0.4"/><ellipse cx="41.1" cy="62.2" rx="1.8" ry="1.2" fill="#0e1414" opacity="0.4"/><ellipse cx="37.7" cy="65.0" rx="2.1" ry="1.1" fill="#4a7a74" opacity="0.4"/><ellipse cx="43.3" cy="78.3" rx="1.3" ry="1.7" fill="#5a6260" opacity="0.4"/><ellipse cx="17.7" cy="73.9" rx="2.0" ry="1.4" fill="#0e1414" opacity="0.4"/><ellipse cx="45.6" cy="65.6" rx="0.9" ry="1.9" fill="#5a6260" opacity="0.4"/><ellipse cx="42.1" cy="78.8" rx="2.1" ry="0.9" fill="#2a3a38" opacity="0.4"/><ellipse cx="14.5" cy="67.6" rx="1.8" ry="1.5" fill="#0e1414" opacity="0.4"/><ellipse cx="34.1" cy="74.8" rx="1.7" ry="1.1" fill="#2a3a38" opacity="0.4"/><ellipse cx="21.3" cy="63.1" rx="1.1" ry="1.5" fill="#4a7a74" opacity="0.4"/><ellipse cx="32.3" cy="83.3" rx="1.1" ry="1.1" fill="#5a6260" opacity="0.4"/><ellipse cx="30.1" cy="79.4" rx="1.0" ry="1.9" fill="#2a3a38" opacity="0.4"/><ellipse cx="37.4" cy="67.7" rx="1.0" ry="3.0" fill="#3a403e" opacity="0.35"/><ellipse cx="11.2" cy="69.9" rx="2.8" ry="1.3" fill="#646a68" opacity="0.35"/><ellipse cx="17.0" cy="97.1" rx="1.6" ry="2.5" fill="#5a7a76" opacity="0.35"/><ellipse cx="22.6" cy="100.4" rx="2.7" ry="1.8" fill="#707674" opacity="0.35"/><ellipse cx="37.6" cy="72.7" rx="1.6" ry="2.9" fill="#707674" opacity="0.35"/><ellipse cx="43.1" cy="66.3" rx="3.0" ry="1.8" fill="#5a7a76" opacity="0.35"/><ellipse cx="29.0" cy="98.2" rx="2.7" ry="1.5" fill="#646a68" opacity="0.35"/><ellipse cx="32.6" cy="84.8" rx="1.3" ry="1.2" fill="#646a68" opacity="0.35"/><ellipse cx="56.7" cy="60.5" rx="1.4" ry="1.3" fill="#5a7a76" opacity="0.35"/><ellipse cx="48.6" cy="62.6" rx="2.4" ry="1.7" fill="#3a403e" opacity="0.35"/><ellipse cx="44.8" cy="68.8" rx="2.8" ry="2.7" fill="#2a302e" opacity="0.35"/><ellipse cx="50.8" cy="67.4" rx="1.1" ry="1.7" fill="#5a7a76" opacity="0.35"/><ellipse cx="14.1" cy="97.4" rx="2.7" ry="2.4" fill="#646a68" opacity="0.35"/><ellipse cx="45.6" cy="69.9" rx="1.7" ry="1.0" fill="#646a68" opacity="0.35"/><ellipse cx="49.3" cy="87.3" rx="1.5" ry="2.8" fill="#2a302e" opacity="0.35"/><ellipse cx="5.9" cy="88.7" rx="1.7" ry="2.8" fill="#2a302e" opacity="0.35"/><ellipse cx="32.2" cy="94.4" rx="1.7" ry="2.1" fill="#3a403e" opacity="0.35"/><ellipse cx="5.2" cy="94.1" rx="1.9" ry="1.6" fill="#2a302e" opacity="0.35"/><ellipse cx="51.8" cy="67.5" rx="2.1" ry="2.8" fill="#707674" opacity="0.35"/><ellipse cx="34.0" cy="72.3" rx="2.6" ry="2.2" fill="#707674" opacity="0.35"/><ellipse cx="24.0" cy="86.5" rx="2.9" ry="2.2" fill="#2a302e" opacity="0.35"/><ellipse cx="39.0" cy="76.0" rx="1.7" ry="1.3" fill="#5a7a76" opacity="0.35"/><ellipse cx="34.1" cy="98.4" rx="1.9" ry="1.1" fill="#2a302e" opacity="0.35"/><ellipse cx="24.9" cy="95.5" rx="1.5" ry="1.7" fill="#707674" opacity="0.35"/><ellipse cx="6.2" cy="89.3" rx="1.6" ry="1.6" fill="#2a302e" opacity="0.35"/><ellipse cx="11.1" cy="60.8" rx="1.4" ry="2.4" fill="#5a7a76" opacity="0.35"/><ellipse cx="1.9" cy="87.2" rx="1.8" ry="1.9" fill="#3a403e" opacity="0.35"/><ellipse cx="26.8" cy="98.5" rx="1.8" ry="2.9" fill="#646a68" opacity="0.35"/><ellipse cx="5.9" cy="64.7" rx="1.6" ry="1.9" fill="#3a403e" opacity="0.35"/><ellipse cx="27.9" cy="66.6" rx="1.5" ry="1.3" fill="#3a403e" opacity="0.35"/><ellipse cx="34.3" cy="66.9" rx="2.1" ry="1.6" fill="#646a68" opacity="0.35"/><ellipse cx="52.9" cy="101.3" rx="1.9" ry="2.8" fill="#2a302e" opacity="0.35"/><ellipse cx="22.7" cy="102.1" rx="2.9" ry="1.3" fill="#707674" opacity="0.35"/><ellipse cx="44.8" cy="86.5" rx="2.4" ry="1.6" fill="#707674" opacity="0.35"/><ellipse cx="23.5" cy="86.1" rx="2.3" ry="1.8" fill="#707674" opacity="0.35"/></g><g filter="url(#fb1)"><ellipse cx="17" cy="40" rx="6" ry="9" fill="#4a7a72" opacity="0.85"/><ellipse cx="48" cy="37" rx="9" ry="12" fill="#56595a"/><ellipse cx="47" cy="45" rx="7" ry="5" fill="#4a7a72" opacity="0.6"/><path d="M7.5,18 Q10,11 19,10.5 Q26,11 27,16 L26.5,24 Q20,31 8,35.5 Q6.5,28 7.5,18 Z" fill="#4c9a8c"/><path d="M8.5,18 Q11,12 19,11.5 Q25,12 26,16.5 L25.5,23.5 Q19.5,30 9,34.5 Q7.5,28 8.5,18 Z" fill="#a446d6"/><ellipse cx="13" cy="19" rx="2" ry="1.5" fill="#e49a4a" opacity="0.75"/><ellipse cx="19" cy="16" rx="2" ry="1.2" fill="#e49a4a" opacity="0.7"/><ellipse cx="12" cy="27" rx="1.5" ry="2" fill="#e49a4a" opacity="0.6"/><ellipse cx="21" cy="21" rx="1.5" ry="1.5" fill="#e49a4a" opacity="0.55"/><ellipse cx="19.7" cy="28.4" rx="1.1" ry="0.8" fill="#e09050" opacity="0.5"/><ellipse cx="18.3" cy="14.2" rx="1.1" ry="0.8" fill="#d08070" opacity="0.5"/><ellipse cx="21.1" cy="22.1" rx="0.7" ry="1.4" fill="#b050d8" opacity="0.5"/><ellipse cx="16.9" cy="26.3" rx="1.0" ry="1.6" fill="#7a3ab0" opacity="0.5"/><ellipse cx="17.1" cy="16.3" rx="0.6" ry="0.9" fill="#b050d8" opacity="0.5"/><ellipse cx="13.9" cy="22.0" rx="0.6" ry="1.3" fill="#e09050" opacity="0.5"/><ellipse cx="22.2" cy="26.3" rx="1.1" ry="1.2" fill="#7a3ab0" opacity="0.5"/><ellipse cx="13.6" cy="27.2" rx="1.3" ry="1.1" fill="#d08070" opacity="0.5"/><ellipse cx="17.4" cy="19.8" rx="0.8" ry="1.6" fill="#d08070" opacity="0.5"/><ellipse cx="21.6" cy="17.2" rx="0.7" ry="1.1" fill="#7a3ab0" opacity="0.5"/><ellipse cx="18.1" cy="18.4" rx="1.5" ry="1.0" fill="#d08070" opacity="0.5"/><ellipse cx="13.2" cy="26.5" rx="0.9" ry="1.1" fill="#b050d8" opacity="0.5"/><ellipse cx="15.8" cy="30.2" rx="1.3" ry="1.6" fill="#d08070" opacity="0.5"/><ellipse cx="11.2" cy="22.2" rx="1.2" ry="0.9" fill="#d08070" opacity="0.5"/><ellipse cx="19.0" cy="21.6" rx="1.2" ry="1.4" fill="#d08070" opacity="0.5"/><ellipse cx="13.3" cy="28.8" rx="0.8" ry="0.8" fill="#e09050" opacity="0.5"/><ellipse cx="19.3" cy="20.3" rx="1.0" ry="1.3" fill="#b050d8" opacity="0.5"/><ellipse cx="13.3" cy="14.4" rx="1.0" ry="1.6" fill="#d08070" opacity="0.5"/><ellipse cx="22.1" cy="20.3" rx="1.1" ry="1.0" fill="#e09050" opacity="0.5"/><ellipse cx="16.6" cy="30.4" rx="1.2" ry="1.0" fill="#d08070" opacity="0.5"/><ellipse cx="11.1" cy="26.3" rx="1.4" ry="0.7" fill="#7a3ab0" opacity="0.5"/><ellipse cx="16.3" cy="26.8" rx="0.8" ry="1.0" fill="#b050d8" opacity="0.5"/><ellipse cx="20.6" cy="16.7" rx="1.6" ry="1.3" fill="#d08070" opacity="0.5"/><ellipse cx="12.8" cy="22.6" rx="0.6" ry="0.8" fill="#b050d8" opacity="0.5"/><ellipse cx="20.0" cy="15.2" rx="1.2" ry="1.0" fill="#e09050" opacity="0.5"/><ellipse cx="10.5" cy="18.0" rx="0.7" ry="1.2" fill="#e09050" opacity="0.5"/><ellipse cx="20.6" cy="27.9" rx="1.3" ry="1.6" fill="#b050d8" opacity="0.5"/><ellipse cx="22.2" cy="23.0" rx="1.5" ry="1.2" fill="#d08070" opacity="0.5"/><ellipse cx="16.3" cy="27.7" rx="0.7" ry="0.7" fill="#d08070" opacity="0.5"/><ellipse cx="17.5" cy="22.8" rx="1.4" ry="0.7" fill="#b050d8" opacity="0.5"/><ellipse cx="49" cy="19.2" rx="8.6" ry="5.6" fill="#c83ca0"/><ellipse cx="49" cy="19.2" rx="7.6" ry="4.6" fill="#e49a4a"/><ellipse cx="49" cy="19.2" rx="6.8" ry="3.9" fill="#f2eeee"/><path d="M29.0,2 L36.5,2 L38.2,61 L27.3,61 Z" fill="#6cb0a8"/><path d="M30.0,2 L35.5,2 L37.2,61 L28.3,61 Z" fill="#bccbe4"/><ellipse cx="32.8" cy="4.1" rx="2.5" ry="1.6" fill="#a862dc" opacity="0.64"/><ellipse cx="35.4" cy="3.3" rx="0.9" ry="1.2" fill="#bfe6dc" opacity="0.7"/><ellipse cx="32.6" cy="8.3" rx="2.6" ry="1.6" fill="#a862dc" opacity="0.80"/><ellipse cx="30.0" cy="8.1" rx="0.9" ry="1.2" fill="#bfe6dc" opacity="0.7"/><ellipse cx="33.1" cy="12.5" rx="2.8" ry="1.6" fill="#a862dc" opacity="0.82"/><ellipse cx="29.9" cy="12.1" rx="0.9" ry="1.2" fill="#bfe6dc" opacity="0.7"/><ellipse cx="33.1" cy="16.8" rx="2.9" ry="1.6" fill="#a862dc" opacity="0.54"/><ellipse cx="35.7" cy="17.3" rx="0.9" ry="1.2" fill="#bfe6dc" opacity="0.7"/><ellipse cx="33.2" cy="21.0" rx="3.0" ry="1.6" fill="#a862dc" opacity="0.76"/><ellipse cx="29.7" cy="20.5" rx="0.9" ry="1.2" fill="#bfe6dc" opacity="0.7"/><ellipse cx="33.2" cy="25.2" rx="3.1" ry="1.6" fill="#d0a0e0" opacity="1.00"/><ellipse cx="36.0" cy="24.5" rx="0.9" ry="1.2" fill="#bfe6dc" opacity="0.7"/><ellipse cx="32.7" cy="29.4" rx="3.2" ry="1.6" fill="#a862dc" opacity="0.80"/><ellipse cx="29.4" cy="30.0" rx="0.9" ry="1.2" fill="#bfe6dc" opacity="0.7"/><ellipse cx="32.6" cy="33.6" rx="3.4" ry="1.6" fill="#f0b070" opacity="1.00"/><ellipse cx="29.3" cy="34.1" rx="0.9" ry="1.2" fill="#bfe6dc" opacity="0.7"/><ellipse cx="33.0" cy="37.8" rx="3.5" ry="1.6" fill="#e49a4a" opacity="1.00"/><ellipse cx="36.3" cy="37.4" rx="0.9" ry="1.2" fill="#bfe6dc" opacity="0.7"/><ellipse cx="32.9" cy="42.0" rx="3.6" ry="1.6" fill="#fff4e0" opacity="1.00"/><ellipse cx="36.5" cy="41.7" rx="0.9" ry="1.2" fill="#bfe6dc" opacity="0.7"/><ellipse cx="32.8" cy="46.2" rx="3.7" ry="1.6" fill="#a862dc" opacity="0.58"/><ellipse cx="36.6" cy="45.4" rx="0.9" ry="1.2" fill="#bfe6dc" opacity="0.7"/><ellipse cx="32.6" cy="50.5" rx="3.8" ry="1.6" fill="#f0b060" opacity="1.00"/><ellipse cx="28.8" cy="49.9" rx="0.9" ry="1.2" fill="#bfe6dc" opacity="0.7"/><ellipse cx="32.3" cy="54.7" rx="4.0" ry="1.6" fill="#f0c080" opacity="1.00"/><ellipse cx="36.8" cy="53.9" rx="0.9" ry="1.2" fill="#bfe6dc" opacity="0.7"/><ellipse cx="32.7" cy="58.9" rx="4.1" ry="1.6" fill="#e08870" opacity="1.00"/><ellipse cx="28.6" cy="58.4" rx="0.9" ry="1.2" fill="#bfe6dc" opacity="0.7"/><line x1="8" y1="58" x2="14" y2="76" stroke="#8fd0c7" stroke-width="2.2" stroke-linecap="round"/><line x1="57.5" y1="58" x2="51" y2="76" stroke="#8fd0c7" stroke-width="2.2" stroke-linecap="round"/><ellipse cx="12" cy="66" rx="0.9" ry="1.2" fill="#b070e0"/><ellipse cx="33" cy="81.5" rx="6" ry="4" fill="#4a7a72"/><ellipse cx="33.5" cy="81.5" rx="4" ry="2.5" fill="#8a48c8"/><ellipse cx="23.5" cy="83" rx="1.7" ry="3.5" fill="#e49a4a"/><ellipse cx="23.5" cy="82" rx="0.9" ry="1.6" fill="#f2eeee"/><path d="M26,87 L40,87 L40,89.5 L26,89.5 Z" fill="#a8e0d8"/><ellipse cx="19" cy="95" rx="1.4" ry="1.3" fill="#c060e0"/><ellipse cx="28" cy="60" rx="1.4" ry="1.4" fill="#4a7a72"/><ellipse cx="33" cy="53" rx="1.8" ry="1.2" fill="#f0c060"/></g></svg><svg class="scan" style="left:285px;top:72px" width="66" height="103" viewBox="0 0 66 103"><defs><filter id="bb2" x="-10%" y="-10%" width="120%" height="120%"><feGaussianBlur stdDeviation="0.9"/></filter><filter id="fb2" x="-10%" y="-10%" width="120%" height="120%"><feGaussianBlur stdDeviation="0.6"/></filter></defs><rect width="66" height="103" fill="#020303"/><g filter="url(#bb2)"><path d="M3,2 L64,2 L64.5,60 L64,103 L3,103 L2.5,60 Z" fill="#4f5654"/><path d="M3.5,2 L5.5,2 L5,70 L3.5,70 Z" fill="#6a706e"/><path d="M61.5,2 L63.5,2 L63.5,70 L62,70 Z" fill="#6a706e"/><path d="M12,2 L54,2 L54,52 L51,60 L15,60 L12,52 Z" fill="#1f2e2b"/><path d="M12,2 L54,2 L54,15 Q33,10 12,15 Z" fill="#0f2724"/><ellipse cx="33" cy="71" rx="14" ry="10" fill="#1a201f"/><path d="M12,56 L20,56 L21,72 L16,74 Z" fill="#0b0e0e"/><path d="M46,56 L54,56 L50,74 L45,72 Z" fill="#0b0e0e"/><path d="M21,56 L26,56 L27,76 L22,76 Z" fill="#4a5250"/><path d="M40,56 L45,56 L44,76 L39,76 Z" fill="#4a5250"/><path d="M29,86 L37,86 L36,103 L30,103 Z" fill="#151a19"/><path d="M3,88 L7,88 L6,103 L3,103 Z" fill="#0e1212"/><path d="M60,88 L64,88 L64,103 L61,103 Z" fill="#0e1212"/></g><g filter="url(#fb2)"><line x1="3.5" y1="5.0" x2="10.5" y2="7.5" stroke="#2a2f2e" stroke-width="0.7" stroke-linecap="round" opacity="0.35"/><line x1="63.5" y1="5.0" x2="55.5" y2="7.5" stroke="#2a2f2e" stroke-width="0.7" stroke-linecap="round" opacity="0.35"/><line x1="3.5" y1="10.5" x2="10.5" y2="13.0" stroke="#2a2f2e" stroke-width="0.7" stroke-linecap="round" opacity="0.35"/><line x1="63.5" y1="10.5" x2="55.5" y2="13.0" stroke="#2a2f2e" stroke-width="0.7" stroke-linecap="round" opacity="0.35"/><line x1="3.5" y1="16.0" x2="10.5" y2="18.5" stroke="#2a2f2e" stroke-width="0.7" stroke-linecap="round" opacity="0.35"/><line x1="63.5" y1="16.0" x2="55.5" y2="18.5" stroke="#2a2f2e" stroke-width="0.7" stroke-linecap="round" opacity="0.35"/><line x1="3.5" y1="21.5" x2="10.5" y2="24.0" stroke="#2a2f2e" stroke-width="0.7" stroke-linecap="round" opacity="0.35"/><line x1="63.5" y1="21.5" x2="55.5" y2="24.0" stroke="#2a2f2e" stroke-width="0.7" stroke-linecap="round" opacity="0.35"/><line x1="3.5" y1="27.0" x2="10.5" y2="29.5" stroke="#2a2f2e" stroke-width="0.7" stroke-linecap="round" opacity="0.35"/><line x1="63.5" y1="27.0" x2="55.5" y2="29.5" stroke="#2a2f2e" stroke-width="0.7" stroke-linecap="round" opacity="0.35"/><line x1="3.5" y1="32.5" x2="10.5" y2="35.0" stroke="#2a2f2e" stroke-width="0.7" stroke-linecap="round" opacity="0.35"/><line x1="63.5" y1="32.5" x2="55.5" y2="35.0" stroke="#2a2f2e" stroke-width="0.7" stroke-linecap="round" opacity="0.35"/><line x1="3.5" y1="38.0" x2="10.5" y2="40.5" stroke="#2a2f2e" stroke-width="0.7" stroke-linecap="round" opacity="0.35"/><line x1="63.5" y1="38.0" x2="55.5" y2="40.5" stroke="#2a2f2e" stroke-width="0.7" stroke-linecap="round" opacity="0.35"/><line x1="3.5" y1="43.5" x2="10.5" y2="46.0" stroke="#2a2f2e" stroke-width="0.7" stroke-linecap="round" opacity="0.35"/><line x1="63.5" y1="43.5" x2="55.5" y2="46.0" stroke="#2a2f2e" stroke-width="0.7" stroke-linecap="round" opacity="0.35"/><line x1="11.5" y1="3" x2="11.5" y2="58" stroke="#050606" stroke-width="1.3" stroke-linecap="round"/><line x1="54.5" y1="3" x2="54.5" y2="58" stroke="#050606" stroke-width="1.3" stroke-linecap="round"/><ellipse cx="18.9" cy="41.9" rx="1.0" ry="1.8" fill="#5a8a82" opacity="0.4"/><ellipse cx="20.3" cy="28.3" rx="1.4" ry="1.6" fill="#5a8a82" opacity="0.4"/><ellipse cx="34.7" cy="47.3" rx="2.0" ry="1.1" fill="#3e6660" opacity="0.4"/><ellipse cx="30.7" cy="37.4" rx="0.9" ry="0.9" fill="#4a7a74" opacity="0.4"/><ellipse cx="37.4" cy="34.6" rx="1.5" ry="1.1" fill="#5a8a82" opacity="0.4"/><ellipse cx="34.0" cy="36.6" rx="1.4" ry="1.5" fill="#2a3f3c" opacity="0.4"/><ellipse cx="22.9" cy="19.9" rx="1.3" ry="1.8" fill="#5a8a82" opacity="0.4"/><ellipse cx="30.1" cy="41.3" rx="2.0" ry="1.0" fill="#4a7a74" opacity="0.4"/><ellipse cx="27.5" cy="19.0" rx="1.1" ry="1.2" fill="#4a7a74" opacity="0.4"/><ellipse cx="35.3" cy="34.5" rx="1.7" ry="2.0" fill="#101816" opacity="0.4"/><ellipse cx="38.6" cy="35.7" rx="2.1" ry="1.4" fill="#5a8a82" opacity="0.4"/><ellipse cx="40.3" cy="32.4" rx="1.8" ry="1.6" fill="#5a8a82" opacity="0.4"/><ellipse cx="37.9" cy="38.4" rx="2.2" ry="1.5" fill="#3e6660" opacity="0.4"/><ellipse cx="17.8" cy="35.9" rx="2.0" ry="1.2" fill="#5a8a82" opacity="0.4"/><ellipse cx="48.3" cy="32.1" rx="1.2" ry="1.8" fill="#4a7a74" opacity="0.4"/><ellipse cx="21.5" cy="34.8" rx="1.7" ry="1.1" fill="#3e6660" opacity="0.4"/><ellipse cx="18.5" cy="41.2" rx="1.5" ry="0.8" fill="#4a7a74" opacity="0.4"/><ellipse cx="28.6" cy="22.3" rx="1.0" ry="1.0" fill="#3e6660" opacity="0.4"/><ellipse cx="23.9" cy="27.2" rx="1.4" ry="1.8" fill="#3e6660" opacity="0.4"/><ellipse cx="20.5" cy="28.5" rx="1.8" ry="1.1" fill="#3e6660" opacity="0.4"/><ellipse cx="20.5" cy="48.8" rx="1.9" ry="1.6" fill="#4a7a74" opacity="0.4"/><ellipse cx="38.7" cy="25.5" rx="0.9" ry="1.0" fill="#3e6660" opacity="0.4"/><ellipse cx="39.8" cy="48.1" rx="2.1" ry="1.8" fill="#4a7a74" opacity="0.4"/><ellipse cx="13.3" cy="27.6" rx="1.1" ry="1.7" fill="#4a7a74" opacity="0.4"/><ellipse cx="41.2" cy="56.3" rx="1.7" ry="1.5" fill="#4a7a74" opacity="0.4"/><ellipse cx="24.0" cy="48.7" rx="1.8" ry="2.0" fill="#2a3f3c" opacity="0.4"/><ellipse cx="40.8" cy="44.1" rx="2.1" ry="1.0" fill="#5a8a82" opacity="0.4"/><ellipse cx="29.1" cy="47.1" rx="0.9" ry="1.9" fill="#5a8a82" opacity="0.4"/><ellipse cx="18.4" cy="54.4" rx="1.4" ry="1.1" fill="#4a7a74" opacity="0.4"/><ellipse cx="41.6" cy="27.0" rx="2.2" ry="2.1" fill="#4a7a74" opacity="0.4"/><ellipse cx="50.0" cy="36.3" rx="2.1" ry="0.9" fill="#5a8a82" opacity="0.4"/><ellipse cx="43.2" cy="56.3" rx="0.8" ry="1.5" fill="#5a8a82" opacity="0.4"/><ellipse cx="36.2" cy="22.8" rx="1.2" ry="0.9" fill="#4a7a74" opacity="0.4"/><ellipse cx="51.4" cy="39.2" rx="0.9" ry="1.8" fill="#2a3f3c" opacity="0.4"/><ellipse cx="17.9" cy="50.2" rx="1.7" ry="2.1" fill="#2a3f3c" opacity="0.4"/><ellipse cx="41.1" cy="52.4" rx="1.4" ry="1.7" fill="#3e6660" opacity="0.4"/><ellipse cx="18.4" cy="30.2" rx="1.5" ry="1.3" fill="#3e6660" opacity="0.4"/><ellipse cx="22.6" cy="36.3" rx="1.1" ry="1.0" fill="#101816" opacity="0.4"/><ellipse cx="26.9" cy="38.5" rx="1.8" ry="1.6" fill="#3e6660" opacity="0.4"/><ellipse cx="52.8" cy="16.8" rx="1.4" ry="2.2" fill="#101816" opacity="0.4"/><ellipse cx="34.2" cy="56.8" rx="0.9" ry="1.5" fill="#3e6660" opacity="0.4"/><ellipse cx="15.4" cy="24.3" rx="1.8" ry="2.2" fill="#4a7a74" opacity="0.4"/><ellipse cx="23.2" cy="23.7" rx="1.2" ry="2.1" fill="#4a7a74" opacity="0.4"/><ellipse cx="46.8" cy="42.6" rx="1.2" ry="0.9" fill="#5a8a82" opacity="0.4"/><ellipse cx="47.3" cy="53.4" rx="1.2" ry="1.8" fill="#4a7a74" opacity="0.4"/><ellipse cx="21.9" cy="62.5" rx="1.0" ry="1.1" fill="#0e1414" opacity="0.4"/><ellipse cx="45.1" cy="77.2" rx="2.2" ry="2.2" fill="#5a6260" opacity="0.4"/><ellipse cx="36.6" cy="70.8" rx="1.7" ry="1.6" fill="#4a7a74" opacity="0.4"/><ellipse cx="41.6" cy="72.8" rx="1.5" ry="1.9" fill="#2a3a38" opacity="0.4"/><ellipse cx="30.6" cy="68.2" rx="0.9" ry="1.5" fill="#0e1414" opacity="0.4"/><ellipse cx="30.0" cy="79.2" rx="2.1" ry="2.1" fill="#5a6260" opacity="0.4"/><ellipse cx="43.8" cy="63.8" rx="1.5" ry="1.3" fill="#2a3a38" opacity="0.4"/><ellipse cx="47.9" cy="78.2" rx="1.2" ry="1.3" fill="#5a6260" opacity="0.4"/><ellipse cx="33.4" cy="76.0" rx="1.8" ry="1.1" fill="#5a6260" opacity="0.4"/><ellipse cx="23.1" cy="70.4" rx="1.5" ry="2.1" fill="#2a3a38" opacity="0.4"/><ellipse cx="17.1" cy="73.6" rx="1.9" ry="1.8" fill="#2a3a38" opacity="0.4"/><ellipse cx="49.4" cy="70.4" rx="1.4" ry="0.8" fill="#2a3a38" opacity="0.4"/><ellipse cx="42.2" cy="69.6" rx="1.7" ry="1.6" fill="#0e1414" opacity="0.4"/><ellipse cx="24.3" cy="76.6" rx="0.9" ry="2.1" fill="#0e1414" opacity="0.4"/><ellipse cx="27.5" cy="65.5" rx="1.3" ry="1.3" fill="#2a3a38" opacity="0.4"/><ellipse cx="28.5" cy="76.2" rx="1.1" ry="2.0" fill="#5a6260" opacity="0.4"/><ellipse cx="41.9" cy="83.6" rx="1.0" ry="1.3" fill="#5a6260" opacity="0.4"/><ellipse cx="31.6" cy="80.6" rx="1.5" ry="0.8" fill="#0e1414" opacity="0.4"/><ellipse cx="20.8" cy="83.8" rx="2.1" ry="1.8" fill="#4a7a74" opacity="0.4"/><ellipse cx="44.6" cy="82.3" rx="0.8" ry="1.8" fill="#5a6260" opacity="0.4"/><ellipse cx="45.7" cy="73.5" rx="1.0" ry="1.7" fill="#4a7a74" opacity="0.4"/><ellipse cx="36.1" cy="79.1" rx="1.5" ry="2.0" fill="#4a7a74" opacity="0.4"/><ellipse cx="21.9" cy="76.8" rx="1.9" ry="1.4" fill="#4a7a74" opacity="0.4"/><ellipse cx="41.4" cy="77.3" rx="1.1" ry="1.3" fill="#2a3a38" opacity="0.4"/><ellipse cx="42.5" cy="69.4" rx="1.0" ry="1.6" fill="#2a3a38" opacity="0.4"/><ellipse cx="7.2" cy="101.0" rx="2.4" ry="2.1" fill="#2a302e" opacity="0.35"/><ellipse cx="10.1" cy="74.2" rx="2.0" ry="1.4" fill="#2a302e" opacity="0.35"/><ellipse cx="41.6" cy="72.9" rx="1.9" ry="1.6" fill="#707674" opacity="0.35"/><ellipse cx="16.2" cy="72.4" rx="2.7" ry="1.8" fill="#2a302e" opacity="0.35"/><ellipse cx="24.2" cy="87.6" rx="1.6" ry="2.7" fill="#2a302e" opacity="0.35"/><ellipse cx="54.4" cy="98.4" rx="2.9" ry="2.8" fill="#646a68" opacity="0.35"/><ellipse cx="45.1" cy="76.7" rx="1.2" ry="2.8" fill="#646a68" opacity="0.35"/><ellipse cx="61.9" cy="81.0" rx="2.7" ry="2.8" fill="#3a403e" opacity="0.35"/><ellipse cx="10.7" cy="93.7" rx="2.9" ry="3.0" fill="#5a7a76" opacity="0.35"/><ellipse cx="37.7" cy="98.2" rx="2.2" ry="2.7" fill="#707674" opacity="0.35"/><ellipse cx="26.1" cy="65.3" rx="2.5" ry="2.9" fill="#646a68" opacity="0.35"/><ellipse cx="50.9" cy="93.6" rx="1.1" ry="2.9" fill="#646a68" opacity="0.35"/><ellipse cx="11.2" cy="64.4" rx="2.9" ry="1.8" fill="#646a68" opacity="0.35"/><ellipse cx="8.1" cy="80.7" rx="2.5" ry="2.5" fill="#707674" opacity="0.35"/><ellipse cx="35.4" cy="66.6" rx="1.8" ry="2.3" fill="#5a7a76" opacity="0.35"/><ellipse cx="53.9" cy="80.7" rx="2.8" ry="1.5" fill="#5a7a76" opacity="0.35"/><ellipse cx="33.1" cy="60.6" rx="2.6" ry="2.1" fill="#707674" opacity="0.35"/><ellipse cx="17.9" cy="70.4" rx="1.6" ry="2.5" fill="#646a68" opacity="0.35"/><ellipse cx="8.7" cy="88.3" rx="1.3" ry="1.0" fill="#5a7a76" opacity="0.35"/><ellipse cx="15.2" cy="85.1" rx="3.0" ry="1.7" fill="#5a7a76" opacity="0.35"/><ellipse cx="29.0" cy="85.5" rx="2.7" ry="2.3" fill="#646a68" opacity="0.35"/><ellipse cx="46.7" cy="72.1" rx="1.2" ry="2.5" fill="#707674" opacity="0.35"/><ellipse cx="4.3" cy="97.5" rx="1.4" ry="2.2" fill="#5a7a76" opacity="0.35"/><ellipse cx="5.7" cy="64.7" rx="1.8" ry="2.0" fill="#3a403e" opacity="0.35"/><ellipse cx="29.4" cy="68.0" rx="1.8" ry="2.5" fill="#707674" opacity="0.35"/><ellipse cx="41.1" cy="97.1" rx="3.0" ry="1.5" fill="#2a302e" opacity="0.35"/><ellipse cx="42.1" cy="61.2" rx="3.0" ry="1.8" fill="#707674" opacity="0.35"/><ellipse cx="17.5" cy="78.2" rx="1.2" ry="2.9" fill="#3a403e" opacity="0.35"/><ellipse cx="18.4" cy="87.3" rx="2.5" ry="1.5" fill="#707674" opacity="0.35"/><ellipse cx="59.5" cy="90.1" rx="1.9" ry="2.4" fill="#2a302e" opacity="0.35"/><ellipse cx="25.5" cy="93.3" rx="1.4" ry="1.8" fill="#5a7a76" opacity="0.35"/><ellipse cx="47.4" cy="77.2" rx="2.1" ry="1.9" fill="#3a403e" opacity="0.35"/><ellipse cx="34.8" cy="79.5" rx="1.8" ry="2.8" fill="#3a403e" opacity="0.35"/><ellipse cx="18.3" cy="77.1" rx="2.8" ry="2.5" fill="#5a7a76" opacity="0.35"/><ellipse cx="44.3" cy="69.6" rx="2.4" ry="1.6" fill="#646a68" opacity="0.35"/></g><g filter="url(#fb2)"><ellipse cx="20" cy="42" rx="7" ry="7" fill="#4a7a72" opacity="0.85"/><ellipse cx="50" cy="42" rx="7" ry="8" fill="#4a7a72" opacity="0.85"/><ellipse cx="17" cy="48" rx="3" ry="2" fill="#4a7a72" opacity="0.8"/><path d="M12,20 Q14,12.5 22,12 Q28,13 30,20 L29,26 Q23,33 14,34.5 Q11,28 12,20 Z" fill="#4c9a8c"/><path d="M13,20 Q15,13.5 22,13 Q27,14 29,20 L28,25.5 Q22.5,32 14.5,33.5 Q12,28 13,20 Z" fill="#a446d6"/><ellipse cx="15.5" cy="19" rx="1.2" ry="2.5" fill="#e49a4a" opacity="0.7"/><ellipse cx="15" cy="28" rx="1" ry="1.5" fill="#e49a4a" opacity="0.6"/><ellipse cx="23.3" cy="23.2" rx="0.7" ry="0.6" fill="#d07080" opacity="0.5"/><ellipse cx="25.9" cy="21.1" rx="0.7" ry="1.3" fill="#c070e8" opacity="0.5"/><ellipse cx="19.6" cy="20.3" rx="1.1" ry="0.8" fill="#d07080" opacity="0.5"/><ellipse cx="19.0" cy="21.4" rx="0.9" ry="0.8" fill="#d07080" opacity="0.5"/><ellipse cx="16.8" cy="27.1" rx="0.8" ry="0.8" fill="#c070e8" opacity="0.5"/><ellipse cx="16.5" cy="19.8" rx="1.4" ry="1.0" fill="#7a3ab0" opacity="0.5"/><ellipse cx="22.8" cy="30.4" rx="0.6" ry="1.3" fill="#d07080" opacity="0.5"/><ellipse cx="24.8" cy="18.0" rx="0.8" ry="1.0" fill="#c070e8" opacity="0.5"/><ellipse cx="18.3" cy="26.6" rx="1.1" ry="0.9" fill="#c070e8" opacity="0.5"/><ellipse cx="19.6" cy="29.2" rx="1.2" ry="1.4" fill="#d07080" opacity="0.5"/><ellipse cx="27.7" cy="21.0" rx="1.4" ry="0.9" fill="#7a3ab0" opacity="0.5"/><ellipse cx="23.5" cy="29.0" rx="0.7" ry="0.8" fill="#8a60c0" opacity="0.5"/><ellipse cx="25.8" cy="19.9" rx="1.3" ry="0.9" fill="#7a3ab0" opacity="0.5"/><ellipse cx="18.8" cy="30.3" rx="0.7" ry="0.8" fill="#c070e8" opacity="0.5"/><ellipse cx="18.8" cy="27.7" rx="1.2" ry="0.7" fill="#7a3ab0" opacity="0.5"/><ellipse cx="26.6" cy="27.9" rx="1.6" ry="0.8" fill="#7a3ab0" opacity="0.5"/><ellipse cx="24.6" cy="30.2" rx="1.1" ry="1.1" fill="#c070e8" opacity="0.5"/><ellipse cx="21.9" cy="18.6" rx="1.6" ry="1.1" fill="#8a60c0" opacity="0.5"/><ellipse cx="15.6" cy="18.8" rx="0.7" ry="1.3" fill="#d07080" opacity="0.5"/><ellipse cx="18.6" cy="15.1" rx="0.9" ry="1.4" fill="#7a3ab0" opacity="0.5"/><ellipse cx="25.1" cy="22.5" rx="0.7" ry="1.2" fill="#7a3ab0" opacity="0.5"/><ellipse cx="14.4" cy="25.8" rx="0.7" ry="1.5" fill="#c070e8" opacity="0.5"/><ellipse cx="26.2" cy="25.1" rx="1.4" ry="1.5" fill="#c070e8" opacity="0.5"/><ellipse cx="24.9" cy="17.8" rx="1.2" ry="1.1" fill="#d07080" opacity="0.5"/><ellipse cx="19.8" cy="17.2" rx="1.1" ry="1.3" fill="#c070e8" opacity="0.5"/><ellipse cx="15.2" cy="24.7" rx="0.9" ry="1.0" fill="#d07080" opacity="0.5"/><ellipse cx="16.9" cy="22.3" rx="1.5" ry="1.3" fill="#c070e8" opacity="0.5"/><ellipse cx="18.5" cy="21.3" rx="1.3" ry="0.8" fill="#7a3ab0" opacity="0.5"/><path d="M45.5,19 Q49,15 54,17 Q58,22 59,29 Q58,34 53,32.5 Q46,27 45.5,19 Z" fill="#c83ca0"/><path d="M46.7,19.5 Q49.5,16.3 53.5,18 Q57,22.5 57.8,28.8 Q57,32.8 53.2,31.3 Q47,26.5 46.7,19.5 Z" fill="#e49a4a"/><path d="M47.6,20 Q50,17.2 53.2,18.8 Q56.2,23 56.9,28.6 Q56.2,31.8 53.3,30.5 Q47.8,26.2 47.6,20 Z" fill="#f2eeee"/><path d="M33.5,2 L40.5,2 L42.2,61 L31.8,61 Z" fill="#6cb0a8"/><path d="M34.5,2 L39.5,2 L41.2,61 L32.8,61 Z" fill="#bccbe4"/><ellipse cx="37.5" cy="4.1" rx="2.3" ry="1.6" fill="#a862dc" opacity="0.72"/><ellipse cx="34.6" cy="3.9" rx="0.9" ry="1.2" fill="#bfe6dc" opacity="0.7"/><ellipse cx="36.5" cy="8.3" rx="2.4" ry="1.6" fill="#a862dc" opacity="0.72"/><ellipse cx="39.5" cy="8.9" rx="0.9" ry="1.2" fill="#bfe6dc" opacity="0.7"/><ellipse cx="37.2" cy="12.5" rx="2.5" ry="1.6" fill="#a862dc" opacity="0.71"/><ellipse cx="34.4" cy="11.8" rx="0.9" ry="1.2" fill="#bfe6dc" opacity="0.7"/><ellipse cx="36.6" cy="16.8" rx="2.6" ry="1.6" fill="#e49a4a" opacity="1.00"/><ellipse cx="39.7" cy="16.2" rx="0.9" ry="1.2" fill="#bfe6dc" opacity="0.7"/><ellipse cx="37.4" cy="21.0" rx="2.7" ry="1.6" fill="#a862dc" opacity="0.51"/><ellipse cx="34.2" cy="20.1" rx="0.9" ry="1.2" fill="#bfe6dc" opacity="0.7"/><ellipse cx="36.6" cy="25.2" rx="2.9" ry="1.6" fill="#a862dc" opacity="0.82"/><ellipse cx="34.0" cy="24.5" rx="0.9" ry="1.2" fill="#bfe6dc" opacity="0.7"/><ellipse cx="37.0" cy="29.4" rx="3.0" ry="1.6" fill="#a862dc" opacity="0.73"/><ellipse cx="40.1" cy="29.5" rx="0.9" ry="1.2" fill="#bfe6dc" opacity="0.7"/><ellipse cx="36.7" cy="33.6" rx="3.1" ry="1.6" fill="#a862dc" opacity="0.71"/><ellipse cx="40.2" cy="33.3" rx="0.9" ry="1.2" fill="#bfe6dc" opacity="0.7"/><ellipse cx="37.5" cy="37.8" rx="3.2" ry="1.6" fill="#a862dc" opacity="0.77"/><ellipse cx="33.7" cy="37.7" rx="0.9" ry="1.2" fill="#bfe6dc" opacity="0.7"/><ellipse cx="37.0" cy="42.0" rx="3.4" ry="1.6" fill="#d880a0" opacity="1.00"/><ellipse cx="40.5" cy="42.1" rx="0.9" ry="1.2" fill="#bfe6dc" opacity="0.7"/><ellipse cx="37.0" cy="46.2" rx="3.5" ry="1.6" fill="#a862dc" opacity="0.57"/><ellipse cx="40.6" cy="46.8" rx="0.9" ry="1.2" fill="#bfe6dc" opacity="0.7"/><ellipse cx="37.5" cy="50.5" rx="3.6" ry="1.6" fill="#c070e0" opacity="1.00"/><ellipse cx="40.7" cy="50.4" rx="0.9" ry="1.2" fill="#bfe6dc" opacity="0.7"/><ellipse cx="37.4" cy="54.7" rx="3.7" ry="1.6" fill="#a862dc" opacity="0.69"/><ellipse cx="33.2" cy="54.0" rx="0.9" ry="1.2" fill="#bfe6dc" opacity="0.7"/><ellipse cx="37.3" cy="58.9" rx="3.8" ry="1.6" fill="#a862dc" opacity="0.78"/><ellipse cx="40.9" cy="59.0" rx="0.9" ry="1.2" fill="#bfe6dc" opacity="0.7"/><line x1="12" y1="58" x2="24" y2="82" stroke="#7fb8b0" stroke-width="4.2" stroke-linecap="round"/><line x1="24" y1="82" x2="33" y2="87" stroke="#7fb8b0" stroke-width="3.2" stroke-linecap="round"/><line x1="56" y1="58" x2="45" y2="78" stroke="#7fb8b0" stroke-width="3.6" stroke-linecap="round"/><line x1="45" y1="78" x2="35" y2="86" stroke="#7fb8b0" stroke-width="3" stroke-linecap="round"/><line x1="12" y1="58" x2="24" y2="82" stroke="#8fd0c7" stroke-width="2.2" stroke-linecap="round"/><line x1="56" y1="58" x2="45" y2="78" stroke="#8fd0c7" stroke-width="1.8" stroke-linecap="round"/><ellipse cx="18" cy="80" rx="3.5" ry="3" fill="#6a9a94"/><ellipse cx="49" cy="79" rx="3.5" ry="3" fill="#6a9a94"/><ellipse cx="12.5" cy="62" rx="1" ry="1.2" fill="#b070e0"/><ellipse cx="15" cy="70" rx="0.9" ry="1" fill="#a070e0"/><ellipse cx="34" cy="80" rx="7" ry="4.5" fill="#3f8a80"/><ellipse cx="36" cy="81" rx="4" ry="2.3" fill="#8a40c8"/><ellipse cx="35" cy="71" rx="3" ry="2" fill="#4a7a72"/><line x1="12" y1="96" x2="12" y2="103" stroke="#8fd0c7" stroke-width="2" stroke-linecap="round"/><line x1="57" y1="96" x2="58" y2="103" stroke="#8fd0c7" stroke-width="2" stroke-linecap="round"/></g></svg><svg class="scan" style="left:361px;top:72px" width="66" height="103" viewBox="0 0 66 103"><defs><filter id="bb3" x="-10%" y="-10%" width="120%" height="120%"><feGaussianBlur stdDeviation="0.9"/></filter><filter id="fb3" x="-10%" y="-10%" width="120%" height="120%"><feGaussianBlur stdDeviation="0.6"/></filter></defs><rect width="66" height="103" fill="#020303"/><g filter="url(#bb3)"><path d="M3,2 L64,2 L64.5,60 L64,103 L3,103 L2.5,60 Z" fill="#4f5654"/><path d="M3.5,2 L5.5,2 L5,70 L3.5,70 Z" fill="#6a706e"/><path d="M61.5,2 L63.5,2 L63.5,70 L62,70 Z" fill="#6a706e"/><path d="M11,2 L56,2 L56,52 L53,60 L14,60 L11,52 Z" fill="#1f2e2b"/><path d="M11,2 L56,2 L56,15 Q33,10 11,15 Z" fill="#0f2724"/><ellipse cx="33" cy="71" rx="14" ry="10" fill="#1a201f"/><path d="M12,56 L20,56 L21,72 L16,74 Z" fill="#0b0e0e"/><path d="M46,56 L54,56 L50,74 L45,72 Z" fill="#0b0e0e"/><path d="M21,56 L26,56 L27,76 L22,76 Z" fill="#4a5250"/><path d="M40,56 L45,56 L44,76 L39,76 Z" fill="#4a5250"/><path d="M29,86 L37,86 L36,103 L30,103 Z" fill="#151a19"/><path d="M3,88 L7,88 L6,103 L3,103 Z" fill="#0e1212"/><path d="M60,88 L64,88 L64,103 L61,103 Z" fill="#0e1212"/></g><g filter="url(#fb3)"><line x1="3.5" y1="5.0" x2="9.5" y2="7.5" stroke="#2a2f2e" stroke-width="0.7" stroke-linecap="round" opacity="0.35"/><line x1="63.5" y1="5.0" x2="57.5" y2="7.5" stroke="#2a2f2e" stroke-width="0.7" stroke-linecap="round" opacity="0.35"/><line x1="3.5" y1="10.5" x2="9.5" y2="13.0" stroke="#2a2f2e" stroke-width="0.7" stroke-linecap="round" opacity="0.35"/><line x1="63.5" y1="10.5" x2="57.5" y2="13.0" stroke="#2a2f2e" stroke-width="0.7" stroke-linecap="round" opacity="0.35"/><line x1="3.5" y1="16.0" x2="9.5" y2="18.5" stroke="#2a2f2e" stroke-width="0.7" stroke-linecap="round" opacity="0.35"/><line x1="63.5" y1="16.0" x2="57.5" y2="18.5" stroke="#2a2f2e" stroke-width="0.7" stroke-linecap="round" opacity="0.35"/><line x1="3.5" y1="21.5" x2="9.5" y2="24.0" stroke="#2a2f2e" stroke-width="0.7" stroke-linecap="round" opacity="0.35"/><line x1="63.5" y1="21.5" x2="57.5" y2="24.0" stroke="#2a2f2e" stroke-width="0.7" stroke-linecap="round" opacity="0.35"/><line x1="3.5" y1="27.0" x2="9.5" y2="29.5" stroke="#2a2f2e" stroke-width="0.7" stroke-linecap="round" opacity="0.35"/><line x1="63.5" y1="27.0" x2="57.5" y2="29.5" stroke="#2a2f2e" stroke-width="0.7" stroke-linecap="round" opacity="0.35"/><line x1="3.5" y1="32.5" x2="9.5" y2="35.0" stroke="#2a2f2e" stroke-width="0.7" stroke-linecap="round" opacity="0.35"/><line x1="63.5" y1="32.5" x2="57.5" y2="35.0" stroke="#2a2f2e" stroke-width="0.7" stroke-linecap="round" opacity="0.35"/><line x1="3.5" y1="38.0" x2="9.5" y2="40.5" stroke="#2a2f2e" stroke-width="0.7" stroke-linecap="round" opacity="0.35"/><line x1="63.5" y1="38.0" x2="57.5" y2="40.5" stroke="#2a2f2e" stroke-width="0.7" stroke-linecap="round" opacity="0.35"/><line x1="3.5" y1="43.5" x2="9.5" y2="46.0" stroke="#2a2f2e" stroke-width="0.7" stroke-linecap="round" opacity="0.35"/><line x1="63.5" y1="43.5" x2="57.5" y2="46.0" stroke="#2a2f2e" stroke-width="0.7" stroke-linecap="round" opacity="0.35"/><line x1="10.5" y1="3" x2="10.5" y2="58" stroke="#050606" stroke-width="1.3" stroke-linecap="round"/><line x1="56.5" y1="3" x2="56.5" y2="58" stroke="#050606" stroke-width="1.3" stroke-linecap="round"/><ellipse cx="54.1" cy="35.2" rx="1.8" ry="1.8" fill="#4a7a74" opacity="0.4"/><ellipse cx="41.6" cy="54.3" rx="1.8" ry="1.7" fill="#3e6660" opacity="0.4"/><ellipse cx="50.3" cy="52.6" rx="1.0" ry="0.9" fill="#4a7a74" opacity="0.4"/><ellipse cx="37.1" cy="56.9" rx="0.9" ry="2.1" fill="#4a7a74" opacity="0.4"/><ellipse cx="38.1" cy="28.3" rx="1.8" ry="2.0" fill="#5a8a82" opacity="0.4"/><ellipse cx="43.1" cy="33.4" rx="1.9" ry="1.6" fill="#5a8a82" opacity="0.4"/><ellipse cx="22.7" cy="31.5" rx="1.6" ry="2.1" fill="#5a8a82" opacity="0.4"/><ellipse cx="33.9" cy="50.7" rx="1.8" ry="2.1" fill="#5a8a82" opacity="0.4"/><ellipse cx="50.1" cy="53.6" rx="1.5" ry="1.8" fill="#101816" opacity="0.4"/><ellipse cx="13.8" cy="51.0" rx="1.0" ry="1.5" fill="#2a3f3c" opacity="0.4"/><ellipse cx="32.7" cy="30.6" rx="2.0" ry="1.7" fill="#2a3f3c" opacity="0.4"/><ellipse cx="25.1" cy="44.0" rx="1.0" ry="2.1" fill="#2a3f3c" opacity="0.4"/><ellipse cx="42.5" cy="28.3" rx="1.6" ry="1.6" fill="#3e6660" opacity="0.4"/><ellipse cx="28.4" cy="46.6" rx="1.2" ry="2.0" fill="#4a7a74" opacity="0.4"/><ellipse cx="31.1" cy="17.9" rx="1.7" ry="2.0" fill="#5a8a82" opacity="0.4"/><ellipse cx="22.3" cy="26.0" rx="1.1" ry="2.1" fill="#4a7a74" opacity="0.4"/><ellipse cx="36.9" cy="43.1" rx="1.3" ry="1.5" fill="#101816" opacity="0.4"/><ellipse cx="15.8" cy="22.1" rx="0.8" ry="1.2" fill="#4a7a74" opacity="0.4"/><ellipse cx="35.1" cy="57.2" rx="1.2" ry="2.1" fill="#4a7a74" opacity="0.4"/><ellipse cx="23.5" cy="38.2" rx="1.6" ry="1.8" fill="#3e6660" opacity="0.4"/><ellipse cx="26.9" cy="30.0" rx="1.7" ry="0.9" fill="#2a3f3c" opacity="0.4"/><ellipse cx="38.7" cy="32.1" rx="1.8" ry="1.4" fill="#101816" opacity="0.4"/><ellipse cx="45.2" cy="50.1" rx="1.6" ry="2.1" fill="#5a8a82" opacity="0.4"/><ellipse cx="25.7" cy="26.6" rx="1.5" ry="1.4" fill="#5a8a82" opacity="0.4"/><ellipse cx="31.4" cy="49.5" rx="1.9" ry="1.0" fill="#3e6660" opacity="0.4"/><ellipse cx="45.3" cy="53.6" rx="1.8" ry="1.6" fill="#5a8a82" opacity="0.4"/><ellipse cx="12.4" cy="36.5" rx="0.8" ry="1.3" fill="#4a7a74" opacity="0.4"/><ellipse cx="37.8" cy="45.7" rx="1.3" ry="1.0" fill="#2a3f3c" opacity="0.4"/><ellipse cx="39.9" cy="41.0" rx="1.8" ry="1.6" fill="#5a8a82" opacity="0.4"/><ellipse cx="14.3" cy="55.2" rx="1.5" ry="2.0" fill="#2a3f3c" opacity="0.4"/><ellipse cx="44.3" cy="49.8" rx="1.2" ry="1.1" fill="#3e6660" opacity="0.4"/><ellipse cx="54.4" cy="19.8" rx="1.2" ry="1.3" fill="#3e6660" opacity="0.4"/><ellipse cx="24.8" cy="33.3" rx="2.1" ry="1.6" fill="#3e6660" opacity="0.4"/><ellipse cx="43.3" cy="57.1" rx="2.1" ry="1.0" fill="#101816" opacity="0.4"/><ellipse cx="40.9" cy="57.9" rx="1.5" ry="0.9" fill="#3e6660" opacity="0.4"/><ellipse cx="31.8" cy="48.1" rx="0.9" ry="1.2" fill="#2a3f3c" opacity="0.4"/><ellipse cx="17.8" cy="23.5" rx="1.9" ry="0.9" fill="#4a7a74" opacity="0.4"/><ellipse cx="26.0" cy="31.0" rx="1.3" ry="1.1" fill="#2a3f3c" opacity="0.4"/><ellipse cx="14.9" cy="56.7" rx="1.9" ry="2.0" fill="#101816" opacity="0.4"/><ellipse cx="18.3" cy="52.9" rx="2.0" ry="1.8" fill="#101816" opacity="0.4"/><ellipse cx="16.2" cy="32.8" rx="1.0" ry="1.7" fill="#101816" opacity="0.4"/><ellipse cx="18.8" cy="46.8" rx="1.3" ry="1.8" fill="#101816" opacity="0.4"/><ellipse cx="47.2" cy="45.4" rx="1.7" ry="0.8" fill="#4a7a74" opacity="0.4"/><ellipse cx="33.1" cy="22.7" rx="0.8" ry="1.2" fill="#101816" opacity="0.4"/><ellipse cx="52.3" cy="33.9" rx="1.2" ry="1.0" fill="#101816" opacity="0.4"/><ellipse cx="40.2" cy="74.1" rx="2.2" ry="1.7" fill="#5a6260" opacity="0.4"/><ellipse cx="51.9" cy="66.2" rx="1.2" ry="1.3" fill="#2a3a38" opacity="0.4"/><ellipse cx="47.3" cy="78.0" rx="1.9" ry="1.2" fill="#4a7a74" opacity="0.4"/><ellipse cx="21.5" cy="68.6" rx="2.1" ry="1.1" fill="#0e1414" opacity="0.4"/><ellipse cx="36.2" cy="78.7" rx="2.2" ry="1.8" fill="#5a6260" opacity="0.4"/><ellipse cx="26.4" cy="63.8" rx="1.0" ry="1.4" fill="#0e1414" opacity="0.4"/><ellipse cx="34.4" cy="71.8" rx="1.9" ry="1.7" fill="#0e1414" opacity="0.4"/><ellipse cx="36.9" cy="67.8" rx="1.8" ry="2.2" fill="#4a7a74" opacity="0.4"/><ellipse cx="41.0" cy="67.1" rx="1.0" ry="1.4" fill="#5a6260" opacity="0.4"/><ellipse cx="35.7" cy="69.0" rx="1.1" ry="1.8" fill="#2a3a38" opacity="0.4"/><ellipse cx="26.1" cy="67.4" rx="1.0" ry="1.3" fill="#0e1414" opacity="0.4"/><ellipse cx="51.5" cy="81.0" rx="2.1" ry="2.1" fill="#5a6260" opacity="0.4"/><ellipse cx="14.4" cy="67.2" rx="2.2" ry="1.8" fill="#5a6260" opacity="0.4"/><ellipse cx="21.6" cy="67.3" rx="0.9" ry="1.5" fill="#0e1414" opacity="0.4"/><ellipse cx="37.6" cy="75.2" rx="1.7" ry="2.0" fill="#2a3a38" opacity="0.4"/><ellipse cx="49.2" cy="76.4" rx="1.6" ry="0.9" fill="#5a6260" opacity="0.4"/><ellipse cx="38.8" cy="64.8" rx="1.5" ry="1.1" fill="#5a6260" opacity="0.4"/><ellipse cx="24.4" cy="78.0" rx="0.8" ry="1.0" fill="#2a3a38" opacity="0.4"/><ellipse cx="46.4" cy="68.7" rx="1.1" ry="2.1" fill="#2a3a38" opacity="0.4"/><ellipse cx="17.4" cy="83.8" rx="1.6" ry="1.2" fill="#0e1414" opacity="0.4"/><ellipse cx="15.8" cy="78.2" rx="1.6" ry="1.9" fill="#0e1414" opacity="0.4"/><ellipse cx="14.8" cy="69.4" rx="1.5" ry="1.2" fill="#5a6260" opacity="0.4"/><ellipse cx="41.1" cy="66.0" rx="2.1" ry="1.5" fill="#4a7a74" opacity="0.4"/><ellipse cx="17.5" cy="78.5" rx="1.4" ry="1.0" fill="#0e1414" opacity="0.4"/><ellipse cx="47.9" cy="62.8" rx="1.8" ry="1.7" fill="#0e1414" opacity="0.4"/><ellipse cx="57.6" cy="91.5" rx="2.7" ry="1.9" fill="#646a68" opacity="0.35"/><ellipse cx="55.3" cy="93.2" rx="2.4" ry="2.4" fill="#646a68" opacity="0.35"/><ellipse cx="13.4" cy="85.3" rx="2.0" ry="2.2" fill="#3a403e" opacity="0.35"/><ellipse cx="38.4" cy="99.1" rx="2.8" ry="2.9" fill="#2a302e" opacity="0.35"/><ellipse cx="5.2" cy="80.0" rx="2.3" ry="2.6" fill="#5a7a76" opacity="0.35"/><ellipse cx="55.9" cy="95.7" rx="2.4" ry="1.2" fill="#2a302e" opacity="0.35"/><ellipse cx="7.8" cy="85.7" rx="1.7" ry="2.1" fill="#3a403e" opacity="0.35"/><ellipse cx="26.2" cy="100.5" rx="2.8" ry="2.6" fill="#5a7a76" opacity="0.35"/><ellipse cx="45.6" cy="96.5" rx="2.9" ry="1.4" fill="#3a403e" opacity="0.35"/><ellipse cx="19.1" cy="101.7" rx="2.0" ry="2.5" fill="#3a403e" opacity="0.35"/><ellipse cx="10.1" cy="101.4" rx="2.2" ry="1.3" fill="#5a7a76" opacity="0.35"/><ellipse cx="5.7" cy="83.1" rx="2.2" ry="1.7" fill="#646a68" opacity="0.35"/><ellipse cx="12.7" cy="100.1" rx="1.5" ry="1.2" fill="#2a302e" opacity="0.35"/><ellipse cx="40.4" cy="85.9" rx="2.9" ry="1.3" fill="#5a7a76" opacity="0.35"/><ellipse cx="61.6" cy="101.3" rx="1.4" ry="2.9" fill="#2a302e" opacity="0.35"/><ellipse cx="30.5" cy="66.5" rx="2.3" ry="2.4" fill="#3a403e" opacity="0.35"/><ellipse cx="54.7" cy="81.7" rx="1.2" ry="2.5" fill="#707674" opacity="0.35"/><ellipse cx="29.8" cy="96.8" rx="1.7" ry="1.9" fill="#646a68" opacity="0.35"/><ellipse cx="61.0" cy="80.0" rx="1.5" ry="1.9" fill="#5a7a76" opacity="0.35"/><ellipse cx="28.7" cy="77.5" rx="1.9" ry="2.0" fill="#707674" opacity="0.35"/><ellipse cx="13.0" cy="66.6" rx="1.7" ry="2.6" fill="#646a68" opacity="0.35"/><ellipse cx="27.1" cy="97.7" rx="1.4" ry="2.1" fill="#2a302e" opacity="0.35"/><ellipse cx="28.1" cy="73.9" rx="2.2" ry="2.1" fill="#646a68" opacity="0.35"/><ellipse cx="25.3" cy="63.0" rx="2.7" ry="2.0" fill="#707674" opacity="0.35"/><ellipse cx="56.8" cy="81.3" rx="2.3" ry="1.4" fill="#3a403e" opacity="0.35"/><ellipse cx="22.0" cy="96.7" rx="1.7" ry="1.5" fill="#5a7a76" opacity="0.35"/><ellipse cx="28.0" cy="82.6" rx="2.2" ry="1.1" fill="#2a302e" opacity="0.35"/><ellipse cx="56.4" cy="65.9" rx="2.3" ry="2.1" fill="#707674" opacity="0.35"/><ellipse cx="11.7" cy="81.7" rx="1.3" ry="2.6" fill="#707674" opacity="0.35"/><ellipse cx="51.3" cy="77.5" rx="1.6" ry="1.9" fill="#5a7a76" opacity="0.35"/><ellipse cx="51.7" cy="69.4" rx="2.3" ry="2.5" fill="#707674" opacity="0.35"/><ellipse cx="15.0" cy="69.4" rx="2.9" ry="1.2" fill="#5a7a76" opacity="0.35"/><ellipse cx="50.7" cy="102.2" rx="1.9" ry="1.3" fill="#5a7a76" opacity="0.35"/><ellipse cx="10.7" cy="61.2" rx="2.3" ry="1.1" fill="#5a7a76" opacity="0.35"/><ellipse cx="17.9" cy="71.4" rx="2.4" ry="2.2" fill="#5a7a76" opacity="0.35"/></g><g filter="url(#fb3)"><ellipse cx="14" cy="44" rx="6" ry="9" fill="#4a7a72" opacity="0.8"/><ellipse cx="22" cy="41" rx="4.5" ry="5.5" fill="#5a8a80"/><ellipse cx="50" cy="42" rx="6" ry="9" fill="#4a7a72" opacity="0.6"/><path d="M12,19 Q15,11 23,11 Q30,12 31,18 L30,25 Q24,32 14,34 Q11,28 12,19 Z" fill="#b050d8"/><path d="M13.2,19.3 Q16,12.2 23,12.2 Q29,13 29.8,18.3 L28.9,24.6 Q23.5,31 14.8,32.8 Q12.3,28 13.2,19.3 Z" fill="#c070c8"/><ellipse cx="18" cy="17" rx="3.5" ry="3" fill="#e49a4a" opacity="0.9"/><ellipse cx="25" cy="17" rx="3" ry="2.5" fill="#e49a4a" opacity="0.85"/><ellipse cx="16" cy="25" rx="2.8" ry="4" fill="#e49a4a" opacity="0.85"/><ellipse cx="22" cy="26" rx="3" ry="2.5" fill="#e49a4a" opacity="0.8"/><ellipse cx="27" cy="22" rx="1.8" ry="2" fill="#e49a4a" opacity="0.7"/><ellipse cx="24" cy="20.5" rx="1.8" ry="1.5" fill="#9040d0" opacity="0.9"/><ellipse cx="18.4" cy="24.8" rx="1.5" ry="1.0" fill="#e0a050" opacity="0.5"/><ellipse cx="24.2" cy="19.3" rx="1.0" ry="1.3" fill="#c070c8" opacity="0.5"/><ellipse cx="15.1" cy="18.5" rx="1.0" ry="0.8" fill="#9040d0" opacity="0.5"/><ellipse cx="24.8" cy="27.8" rx="0.9" ry="1.3" fill="#e0a050" opacity="0.5"/><ellipse cx="18.8" cy="20.5" rx="1.0" ry="0.9" fill="#9040d0" opacity="0.5"/><ellipse cx="20.8" cy="19.7" rx="1.3" ry="0.7" fill="#c070c8" opacity="0.5"/><ellipse cx="19.7" cy="19.4" rx="1.3" ry="1.6" fill="#e0a050" opacity="0.5"/><ellipse cx="25.0" cy="23.6" rx="1.2" ry="0.8" fill="#9040d0" opacity="0.5"/><ellipse cx="26.3" cy="16.9" rx="1.0" ry="0.7" fill="#c070c8" opacity="0.5"/><ellipse cx="21.9" cy="22.7" rx="1.5" ry="0.8" fill="#f0b070" opacity="0.5"/><ellipse cx="22.8" cy="23.2" rx="1.0" ry="1.3" fill="#f0b070" opacity="0.5"/><ellipse cx="14.2" cy="20.0" rx="0.9" ry="0.7" fill="#f0b070" opacity="0.5"/><ellipse cx="22.4" cy="22.7" rx="1.6" ry="1.3" fill="#9040d0" opacity="0.5"/><ellipse cx="24.8" cy="18.6" rx="1.2" ry="1.0" fill="#9040d0" opacity="0.5"/><ellipse cx="25.3" cy="15.2" rx="0.8" ry="1.0" fill="#e0a050" opacity="0.5"/><ellipse cx="14.8" cy="23.8" rx="0.7" ry="1.3" fill="#f0b070" opacity="0.5"/><ellipse cx="14.0" cy="19.9" rx="0.9" ry="1.5" fill="#e0a050" opacity="0.5"/><ellipse cx="17.7" cy="29.3" rx="1.4" ry="0.9" fill="#f0b070" opacity="0.5"/><ellipse cx="19.0" cy="22.9" rx="0.8" ry="0.8" fill="#e0a050" opacity="0.5"/><ellipse cx="17.4" cy="22.8" rx="1.1" ry="1.2" fill="#e0a050" opacity="0.5"/><ellipse cx="18.4" cy="22.1" rx="1.3" ry="0.7" fill="#f0b070" opacity="0.5"/><ellipse cx="26.8" cy="21.9" rx="1.2" ry="1.1" fill="#e0a050" opacity="0.5"/><ellipse cx="28.0" cy="20.5" rx="0.6" ry="1.2" fill="#c070c8" opacity="0.5"/><ellipse cx="26.6" cy="19.6" rx="1.0" ry="1.6" fill="#e0a050" opacity="0.5"/><ellipse cx="22.5" cy="21.6" rx="0.8" ry="1.0" fill="#c070c8" opacity="0.5"/><ellipse cx="27.7" cy="18.6" rx="0.8" ry="1.5" fill="#c070c8" opacity="0.5"/><ellipse cx="15.8" cy="17.0" rx="1.2" ry="1.0" fill="#c070c8" opacity="0.5"/><ellipse cx="16.7" cy="25.4" rx="0.7" ry="1.1" fill="#e0a050" opacity="0.5"/><ellipse cx="16.1" cy="24.1" rx="0.9" ry="0.8" fill="#f0b070" opacity="0.5"/><ellipse cx="15.4" cy="23.1" rx="0.7" ry="1.4" fill="#f0b070" opacity="0.5"/><path d="M46,18 Q49,15 53,16.5 Q57,21 57.5,27 Q56.5,31 53,29 Q47,24 46,18 Z" fill="#b050d8"/><path d="M47.2,18.5 Q49.5,16.3 52.6,17.6 Q56,21.5 56.3,26.6 Q55.6,29.6 53,28 Q48,23.5 47.2,18.5 Z" fill="#e49a4a"/><ellipse cx="53" cy="23" rx="1.3" ry="2" fill="#f0c890"/><path d="M34.0,2 L42.0,2 L43.7,61 L32.3,61 Z" fill="#6cb0a8"/><path d="M35.0,2 L41.0,2 L42.7,61 L33.3,61 Z" fill="#bccbe4"/><ellipse cx="37.6" cy="4.1" rx="2.8" ry="1.6" fill="#a862dc" opacity="0.77"/><ellipse cx="40.9" cy="4.9" rx="0.9" ry="1.2" fill="#bfe6dc" opacity="0.7"/><ellipse cx="38.3" cy="8.3" rx="2.9" ry="1.6" fill="#a862dc" opacity="0.72"/><ellipse cx="35.0" cy="7.7" rx="0.9" ry="1.2" fill="#bfe6dc" opacity="0.7"/><ellipse cx="38.4" cy="12.5" rx="3.0" ry="1.6" fill="#a862dc" opacity="0.73"/><ellipse cx="41.1" cy="13.2" rx="0.9" ry="1.2" fill="#bfe6dc" opacity="0.7"/><ellipse cx="37.8" cy="16.8" rx="3.1" ry="1.6" fill="#a862dc" opacity="0.51"/><ellipse cx="34.8" cy="16.5" rx="0.9" ry="1.2" fill="#bfe6dc" opacity="0.7"/><ellipse cx="38.4" cy="21.0" rx="3.2" ry="1.6" fill="#a862dc" opacity="0.67"/><ellipse cx="41.3" cy="21.0" rx="0.9" ry="1.2" fill="#bfe6dc" opacity="0.7"/><ellipse cx="37.6" cy="25.2" rx="3.4" ry="1.6" fill="#a862dc" opacity="0.80"/><ellipse cx="41.5" cy="24.4" rx="0.9" ry="1.2" fill="#bfe6dc" opacity="0.7"/><ellipse cx="37.8" cy="29.4" rx="3.5" ry="1.6" fill="#a862dc" opacity="0.74"/><ellipse cx="41.6" cy="29.8" rx="0.9" ry="1.2" fill="#bfe6dc" opacity="0.7"/><ellipse cx="38.3" cy="33.6" rx="3.6" ry="1.6" fill="#a862dc" opacity="0.50"/><ellipse cx="41.7" cy="33.5" rx="0.9" ry="1.2" fill="#bfe6dc" opacity="0.7"/><ellipse cx="38.1" cy="37.8" rx="3.7" ry="1.6" fill="#a862dc" opacity="0.74"/><ellipse cx="34.2" cy="38.0" rx="0.9" ry="1.2" fill="#bfe6dc" opacity="0.7"/><ellipse cx="38.2" cy="42.0" rx="3.9" ry="1.6" fill="#a862dc" opacity="0.55"/><ellipse cx="42.0" cy="42.1" rx="0.9" ry="1.2" fill="#bfe6dc" opacity="0.7"/><ellipse cx="38.1" cy="46.2" rx="4.0" ry="1.6" fill="#d080c0" opacity="1.00"/><ellipse cx="33.9" cy="47.0" rx="0.9" ry="1.2" fill="#bfe6dc" opacity="0.7"/><ellipse cx="38.4" cy="50.5" rx="4.1" ry="1.6" fill="#e070d0" opacity="1.00"/><ellipse cx="42.2" cy="51.4" rx="0.9" ry="1.2" fill="#bfe6dc" opacity="0.7"/><ellipse cx="38.1" cy="54.7" rx="4.2" ry="1.6" fill="#c070e0" opacity="1.00"/><ellipse cx="42.3" cy="55.0" rx="0.9" ry="1.2" fill="#bfe6dc" opacity="0.7"/><ellipse cx="38.5" cy="58.9" rx="4.3" ry="1.6" fill="#c070e0" opacity="1.00"/><ellipse cx="42.4" cy="59.6" rx="0.9" ry="1.2" fill="#bfe6dc" opacity="0.7"/><line x1="11" y1="58" x2="32" y2="88" stroke="#7fb8b0" stroke-width="4.4" stroke-linecap="round"/><line x1="58" y1="58" x2="32" y2="88" stroke="#7fb8b0" stroke-width="4.4" stroke-linecap="round"/><line x1="11" y1="58" x2="32" y2="88" stroke="#8fd0c7" stroke-width="2.4" stroke-linecap="round"/><line x1="58" y1="58" x2="32" y2="88" stroke="#8fd0c7" stroke-width="2.4" stroke-linecap="round"/><ellipse cx="25.5" cy="73" rx="2.5" ry="4" fill="#b050d8"/><ellipse cx="25.5" cy="73" rx="1.8" ry="3.2" fill="#e49a4a"/><ellipse cx="25" cy="73.5" rx="0.9" ry="1.6" fill="#f2eeee"/><ellipse cx="40" cy="70" rx="3.2" ry="6" fill="#b050d8"/><ellipse cx="40" cy="70.5" rx="2.5" ry="5" fill="#e49a4a"/><ellipse cx="40" cy="71" rx="1.6" ry="3" fill="#f2eeee"/><ellipse cx="32" cy="80" rx="5" ry="4.5" fill="#9040c0"/><ellipse cx="31" cy="79" rx="2.2" ry="1.8" fill="#e49a4a" opacity="0.8"/><ellipse cx="33" cy="62" rx="4" ry="2.5" fill="#a050d0" opacity="0.8"/><ellipse cx="13" cy="63" rx="1" ry="1.3" fill="#c070e0"/><ellipse cx="50" cy="73" rx="1.2" ry="1.8" fill="#c070e0"/><ellipse cx="48" cy="82" rx="3" ry="2.5" fill="#7a8a86"/><line x1="10" y1="97" x2="10" y2="103" stroke="#8fd0c7" stroke-width="2.5" stroke-linecap="round"/><line x1="55" y1="97" x2="55" y2="103" stroke="#8fd0c7" stroke-width="2.5" stroke-linecap="round"/></g></svg><svg class="scan" style="left:437px;top:72px" width="66" height="103" viewBox="0 0 66 103"><defs><filter id="bb4" x="-10%" y="-10%" width="120%" height="120%"><feGaussianBlur stdDeviation="0.9"/></filter><filter id="fb4" x="-10%" y="-10%" width="120%" height="120%"><feGaussianBlur stdDeviation="0.6"/></filter></defs><rect width="66" height="103" fill="#020303"/><g filter="url(#bb4)"><path d="M2.5,2 L64,2 L64.5,60 L64,103 L2.5,103 L2.0,60 Z" fill="#4f5654"/><path d="M3.0,2 L5.0,2 L4.5,70 L3.0,70 Z" fill="#6a706e"/><path d="M61.5,2 L63.5,2 L63.5,70 L62,70 Z" fill="#6a706e"/><path d="M9,2 L57,2 L57,52 L54,60 L12,60 L9,52 Z" fill="#1f2e2b"/><path d="M9,2 L57,2 L57,15 Q33,10 9,15 Z" fill="#0f2724"/><ellipse cx="33" cy="71" rx="14" ry="10" fill="#1a201f"/><path d="M12,56 L20,56 L21,72 L16,74 Z" fill="#0b0e0e"/><path d="M46,56 L54,56 L50,74 L45,72 Z" fill="#0b0e0e"/><path d="M21,56 L26,56 L27,76 L22,76 Z" fill="#4a5250"/><path d="M40,56 L45,56 L44,76 L39,76 Z" fill="#4a5250"/><path d="M29,86 L37,86 L36,103 L30,103 Z" fill="#151a19"/><path d="M2.5,88 L6.5,88 L5.5,103 L2.5,103 Z" fill="#0e1212"/><path d="M60,88 L64,88 L64,103 L61,103 Z" fill="#0e1212"/></g><g filter="url(#fb4)"><line x1="3.0" y1="5.0" x2="7.5" y2="7.5" stroke="#2a2f2e" stroke-width="0.7" stroke-linecap="round" opacity="0.35"/><line x1="63.5" y1="5.0" x2="58.5" y2="7.5" stroke="#2a2f2e" stroke-width="0.7" stroke-linecap="round" opacity="0.35"/><line x1="3.0" y1="10.5" x2="7.5" y2="13.0" stroke="#2a2f2e" stroke-width="0.7" stroke-linecap="round" opacity="0.35"/><line x1="63.5" y1="10.5" x2="58.5" y2="13.0" stroke="#2a2f2e" stroke-width="0.7" stroke-linecap="round" opacity="0.35"/><line x1="3.0" y1="16.0" x2="7.5" y2="18.5" stroke="#2a2f2e" stroke-width="0.7" stroke-linecap="round" opacity="0.35"/><line x1="63.5" y1="16.0" x2="58.5" y2="18.5" stroke="#2a2f2e" stroke-width="0.7" stroke-linecap="round" opacity="0.35"/><line x1="3.0" y1="21.5" x2="7.5" y2="24.0" stroke="#2a2f2e" stroke-width="0.7" stroke-linecap="round" opacity="0.35"/><line x1="63.5" y1="21.5" x2="58.5" y2="24.0" stroke="#2a2f2e" stroke-width="0.7" stroke-linecap="round" opacity="0.35"/><line x1="3.0" y1="27.0" x2="7.5" y2="29.5" stroke="#2a2f2e" stroke-width="0.7" stroke-linecap="round" opacity="0.35"/><line x1="63.5" y1="27.0" x2="58.5" y2="29.5" stroke="#2a2f2e" stroke-width="0.7" stroke-linecap="round" opacity="0.35"/><line x1="3.0" y1="32.5" x2="7.5" y2="35.0" stroke="#2a2f2e" stroke-width="0.7" stroke-linecap="round" opacity="0.35"/><line x1="63.5" y1="32.5" x2="58.5" y2="35.0" stroke="#2a2f2e" stroke-width="0.7" stroke-linecap="round" opacity="0.35"/><line x1="3.0" y1="38.0" x2="7.5" y2="40.5" stroke="#2a2f2e" stroke-width="0.7" stroke-linecap="round" opacity="0.35"/><line x1="63.5" y1="38.0" x2="58.5" y2="40.5" stroke="#2a2f2e" stroke-width="0.7" stroke-linecap="round" opacity="0.35"/><line x1="3.0" y1="43.5" x2="7.5" y2="46.0" stroke="#2a2f2e" stroke-width="0.7" stroke-linecap="round" opacity="0.35"/><line x1="63.5" y1="43.5" x2="58.5" y2="46.0" stroke="#2a2f2e" stroke-width="0.7" stroke-linecap="round" opacity="0.35"/><line x1="8.5" y1="3" x2="8.5" y2="58" stroke="#050606" stroke-width="1.3" stroke-linecap="round"/><line x1="57.5" y1="3" x2="57.5" y2="58" stroke="#050606" stroke-width="1.3" stroke-linecap="round"/><ellipse cx="54.2" cy="52.6" rx="1.8" ry="1.1" fill="#101816" opacity="0.4"/><ellipse cx="10.3" cy="21.3" rx="1.9" ry="2.1" fill="#2a3f3c" opacity="0.4"/><ellipse cx="51.2" cy="21.0" rx="1.7" ry="1.3" fill="#2a3f3c" opacity="0.4"/><ellipse cx="49.7" cy="40.4" rx="1.3" ry="1.3" fill="#5a8a82" opacity="0.4"/><ellipse cx="17.9" cy="28.6" rx="0.9" ry="1.4" fill="#4a7a74" opacity="0.4"/><ellipse cx="21.9" cy="23.5" rx="1.6" ry="0.9" fill="#5a8a82" opacity="0.4"/><ellipse cx="46.1" cy="21.2" rx="1.0" ry="1.6" fill="#101816" opacity="0.4"/><ellipse cx="52.5" cy="30.7" rx="2.2" ry="1.1" fill="#2a3f3c" opacity="0.4"/><ellipse cx="11.9" cy="44.0" rx="1.9" ry="1.6" fill="#4a7a74" opacity="0.4"/><ellipse cx="52.0" cy="57.8" rx="1.1" ry="1.5" fill="#2a3f3c" opacity="0.4"/><ellipse cx="34.8" cy="17.3" rx="1.4" ry="1.1" fill="#3e6660" opacity="0.4"/><ellipse cx="13.9" cy="22.5" rx="0.8" ry="1.9" fill="#4a7a74" opacity="0.4"/><ellipse cx="15.7" cy="35.8" rx="1.6" ry="1.4" fill="#5a8a82" opacity="0.4"/><ellipse cx="32.0" cy="23.9" rx="1.4" ry="0.8" fill="#2a3f3c" opacity="0.4"/><ellipse cx="49.5" cy="53.4" rx="2.0" ry="1.5" fill="#5a8a82" opacity="0.4"/><ellipse cx="42.8" cy="16.8" rx="1.9" ry="1.2" fill="#2a3f3c" opacity="0.4"/><ellipse cx="19.2" cy="36.3" rx="1.4" ry="0.9" fill="#5a8a82" opacity="0.4"/><ellipse cx="21.2" cy="19.7" rx="2.0" ry="1.7" fill="#2a3f3c" opacity="0.4"/><ellipse cx="36.0" cy="56.3" rx="1.7" ry="2.0" fill="#2a3f3c" opacity="0.4"/><ellipse cx="29.2" cy="50.5" rx="2.2" ry="1.3" fill="#5a8a82" opacity="0.4"/><ellipse cx="18.2" cy="19.6" rx="1.1" ry="1.1" fill="#4a7a74" opacity="0.4"/><ellipse cx="37.2" cy="44.9" rx="1.8" ry="1.7" fill="#3e6660" opacity="0.4"/><ellipse cx="33.3" cy="25.6" rx="1.5" ry="1.1" fill="#4a7a74" opacity="0.4"/><ellipse cx="42.6" cy="16.3" rx="2.0" ry="1.2" fill="#2a3f3c" opacity="0.4"/><ellipse cx="28.2" cy="39.1" rx="2.1" ry="1.5" fill="#3e6660" opacity="0.4"/><ellipse cx="45.9" cy="54.9" rx="1.7" ry="2.1" fill="#3e6660" opacity="0.4"/><ellipse cx="22.7" cy="53.7" rx="1.0" ry="1.3" fill="#5a8a82" opacity="0.4"/><ellipse cx="52.1" cy="35.3" rx="0.8" ry="1.6" fill="#3e6660" opacity="0.4"/><ellipse cx="50.8" cy="27.0" rx="1.5" ry="1.4" fill="#4a7a74" opacity="0.4"/><ellipse cx="17.6" cy="36.5" rx="1.0" ry="1.8" fill="#2a3f3c" opacity="0.4"/><ellipse cx="41.1" cy="16.5" rx="1.4" ry="1.0" fill="#5a8a82" opacity="0.4"/><ellipse cx="32.5" cy="31.5" rx="1.9" ry="2.0" fill="#2a3f3c" opacity="0.4"/><ellipse cx="22.6" cy="47.7" rx="1.9" ry="1.5" fill="#3e6660" opacity="0.4"/><ellipse cx="42.9" cy="37.0" rx="1.9" ry="1.1" fill="#4a7a74" opacity="0.4"/><ellipse cx="16.9" cy="31.6" rx="0.9" ry="1.3" fill="#3e6660" opacity="0.4"/><ellipse cx="24.0" cy="53.6" rx="1.1" ry="1.1" fill="#4a7a74" opacity="0.4"/><ellipse cx="50.0" cy="20.2" rx="1.5" ry="1.3" fill="#4a7a74" opacity="0.4"/><ellipse cx="16.6" cy="46.9" rx="1.9" ry="1.3" fill="#4a7a74" opacity="0.4"/><ellipse cx="42.9" cy="16.0" rx="1.2" ry="1.6" fill="#4a7a74" opacity="0.4"/><ellipse cx="19.7" cy="39.3" rx="2.1" ry="1.0" fill="#101816" opacity="0.4"/><ellipse cx="55.5" cy="38.9" rx="0.8" ry="1.4" fill="#5a8a82" opacity="0.4"/><ellipse cx="35.0" cy="19.8" rx="1.3" ry="1.1" fill="#4a7a74" opacity="0.4"/><ellipse cx="33.9" cy="57.2" rx="1.0" ry="1.5" fill="#101816" opacity="0.4"/><ellipse cx="52.7" cy="35.8" rx="1.4" ry="2.0" fill="#3e6660" opacity="0.4"/><ellipse cx="42.3" cy="42.9" rx="1.9" ry="1.7" fill="#5a8a82" opacity="0.4"/><ellipse cx="45.0" cy="63.0" rx="1.2" ry="2.1" fill="#4a7a74" opacity="0.4"/><ellipse cx="28.8" cy="83.0" rx="2.0" ry="1.9" fill="#4a7a74" opacity="0.4"/><ellipse cx="37.6" cy="68.7" rx="1.5" ry="1.6" fill="#4a7a74" opacity="0.4"/><ellipse cx="49.9" cy="74.7" rx="1.9" ry="1.9" fill="#2a3a38" opacity="0.4"/><ellipse cx="24.5" cy="72.9" rx="2.1" ry="1.3" fill="#5a6260" opacity="0.4"/><ellipse cx="36.3" cy="78.9" rx="1.3" ry="1.6" fill="#0e1414" opacity="0.4"/><ellipse cx="27.5" cy="67.3" rx="1.9" ry="0.8" fill="#2a3a38" opacity="0.4"/><ellipse cx="31.1" cy="64.0" rx="1.4" ry="2.2" fill="#2a3a38" opacity="0.4"/><ellipse cx="17.7" cy="82.8" rx="1.7" ry="0.9" fill="#0e1414" opacity="0.4"/><ellipse cx="40.5" cy="81.9" rx="1.1" ry="1.7" fill="#4a7a74" opacity="0.4"/><ellipse cx="15.7" cy="66.0" rx="1.6" ry="1.6" fill="#4a7a74" opacity="0.4"/><ellipse cx="44.2" cy="77.2" rx="1.0" ry="2.1" fill="#2a3a38" opacity="0.4"/><ellipse cx="21.1" cy="83.2" rx="1.7" ry="1.5" fill="#5a6260" opacity="0.4"/><ellipse cx="51.2" cy="62.9" rx="2.1" ry="1.6" fill="#4a7a74" opacity="0.4"/><ellipse cx="45.3" cy="74.2" rx="1.0" ry="2.0" fill="#2a3a38" opacity="0.4"/><ellipse cx="35.9" cy="67.0" rx="1.5" ry="2.1" fill="#4a7a74" opacity="0.4"/><ellipse cx="47.2" cy="69.6" rx="1.0" ry="1.8" fill="#4a7a74" opacity="0.4"/><ellipse cx="46.3" cy="67.2" rx="1.1" ry="1.6" fill="#5a6260" opacity="0.4"/><ellipse cx="40.9" cy="70.6" rx="0.9" ry="1.8" fill="#4a7a74" opacity="0.4"/><ellipse cx="50.4" cy="77.4" rx="0.9" ry="1.1" fill="#0e1414" opacity="0.4"/><ellipse cx="32.3" cy="62.9" rx="1.4" ry="1.7" fill="#0e1414" opacity="0.4"/><ellipse cx="35.8" cy="68.2" rx="2.0" ry="1.3" fill="#2a3a38" opacity="0.4"/><ellipse cx="35.0" cy="83.4" rx="1.4" ry="1.0" fill="#0e1414" opacity="0.4"/><ellipse cx="15.5" cy="63.9" rx="1.2" ry="1.3" fill="#2a3a38" opacity="0.4"/><ellipse cx="37.0" cy="74.0" rx="1.5" ry="1.5" fill="#0e1414" opacity="0.4"/><ellipse cx="24.4" cy="79.9" rx="1.1" ry="2.6" fill="#707674" opacity="0.35"/><ellipse cx="4.9" cy="99.4" rx="2.1" ry="3.0" fill="#5a7a76" opacity="0.35"/><ellipse cx="39.6" cy="76.7" rx="1.8" ry="1.0" fill="#707674" opacity="0.35"/><ellipse cx="8.3" cy="89.7" rx="2.7" ry="2.9" fill="#707674" opacity="0.35"/><ellipse cx="32.4" cy="100.3" rx="2.0" ry="2.1" fill="#3a403e" opacity="0.35"/><ellipse cx="4.2" cy="68.2" rx="2.7" ry="3.0" fill="#5a7a76" opacity="0.35"/><ellipse cx="7.3" cy="85.8" rx="2.5" ry="2.1" fill="#5a7a76" opacity="0.35"/><ellipse cx="7.2" cy="69.6" rx="1.8" ry="2.6" fill="#3a403e" opacity="0.35"/><ellipse cx="36.2" cy="75.5" rx="1.3" ry="2.8" fill="#3a403e" opacity="0.35"/><ellipse cx="60.4" cy="101.5" rx="2.4" ry="2.7" fill="#646a68" opacity="0.35"/><ellipse cx="47.7" cy="77.9" rx="2.4" ry="2.6" fill="#2a302e" opacity="0.35"/><ellipse cx="51.4" cy="67.2" rx="2.5" ry="2.2" fill="#2a302e" opacity="0.35"/><ellipse cx="58.1" cy="62.9" rx="1.1" ry="2.0" fill="#3a403e" opacity="0.35"/><ellipse cx="8.0" cy="84.3" rx="1.5" ry="1.5" fill="#646a68" opacity="0.35"/><ellipse cx="56.1" cy="87.4" rx="2.8" ry="1.7" fill="#646a68" opacity="0.35"/><ellipse cx="49.8" cy="67.7" rx="2.3" ry="2.0" fill="#5a7a76" opacity="0.35"/><ellipse cx="53.9" cy="88.7" rx="2.1" ry="1.5" fill="#2a302e" opacity="0.35"/><ellipse cx="10.0" cy="90.9" rx="1.4" ry="2.4" fill="#646a68" opacity="0.35"/><ellipse cx="40.6" cy="84.0" rx="2.7" ry="2.1" fill="#2a302e" opacity="0.35"/><ellipse cx="23.5" cy="71.4" rx="3.0" ry="2.6" fill="#2a302e" opacity="0.35"/><ellipse cx="30.0" cy="66.3" rx="1.8" ry="1.3" fill="#5a7a76" opacity="0.35"/><ellipse cx="11.6" cy="66.3" rx="2.6" ry="2.1" fill="#646a68" opacity="0.35"/><ellipse cx="9.9" cy="66.3" rx="2.6" ry="1.6" fill="#5a7a76" opacity="0.35"/><ellipse cx="33.8" cy="82.4" rx="1.3" ry="2.8" fill="#646a68" opacity="0.35"/><ellipse cx="38.8" cy="83.4" rx="1.3" ry="2.9" fill="#2a302e" opacity="0.35"/><ellipse cx="55.8" cy="93.9" rx="1.4" ry="1.9" fill="#5a7a76" opacity="0.35"/><ellipse cx="59.6" cy="84.0" rx="1.1" ry="1.3" fill="#707674" opacity="0.35"/><ellipse cx="58.1" cy="73.7" rx="1.7" ry="2.2" fill="#3a403e" opacity="0.35"/><ellipse cx="60.6" cy="99.3" rx="1.2" ry="1.1" fill="#5a7a76" opacity="0.35"/><ellipse cx="51.0" cy="87.4" rx="1.6" ry="1.7" fill="#707674" opacity="0.35"/><ellipse cx="40.0" cy="86.1" rx="1.9" ry="2.8" fill="#707674" opacity="0.35"/><ellipse cx="60.5" cy="79.6" rx="2.8" ry="2.5" fill="#646a68" opacity="0.35"/><ellipse cx="32.6" cy="82.9" rx="1.8" ry="2.3" fill="#646a68" opacity="0.35"/><ellipse cx="49.1" cy="69.9" rx="2.6" ry="1.1" fill="#707674" opacity="0.35"/><ellipse cx="21.3" cy="87.2" rx="2.4" ry="2.0" fill="#3a403e" opacity="0.35"/></g><g filter="url(#fb4)"><path d="M22,2 L40,2 L38,8 L24,8 Z" fill="#7ab8b0"/><ellipse cx="19" cy="34" rx="6" ry="9" fill="#4a7a72" opacity="0.9"/><ellipse cx="45" cy="34" rx="7" ry="9" fill="#4a7a72" opacity="0.9"/><ellipse cx="16" cy="46" rx="4" ry="5" fill="#4a7a72" opacity="0.6"/><ellipse cx="49" cy="46" rx="4" ry="5" fill="#4a7a72" opacity="0.6"/><path d="M7,17 Q9,10 17,9 Q25,9.5 26,13 L25.5,19 Q20,25 8,32 Q6,26 7,17 Z" fill="#b050d8"/><path d="M8.2,17.2 Q10,11 17,10.2 Q24.2,10.7 24.9,13.5 L24.5,18.5 Q19.5,24 9,30.7 Q7.3,25.5 8.2,17.2 Z" fill="#a446d6"/><ellipse cx="12" cy="17" rx="2" ry="3" fill="#e49a4a" opacity="0.7"/><ellipse cx="17" cy="13" rx="2" ry="1.5" fill="#e49a4a" opacity="0.6"/><ellipse cx="10" cy="26" rx="1.5" ry="2" fill="#e49a4a" opacity="0.6"/><ellipse cx="16.2" cy="23.0" rx="0.8" ry="1.6" fill="#e09050" opacity="0.5"/><ellipse cx="17.8" cy="14.9" rx="1.1" ry="1.1" fill="#d08070" opacity="0.5"/><ellipse cx="14.3" cy="13.2" rx="1.2" ry="1.0" fill="#c070e8" opacity="0.5"/><ellipse cx="20.4" cy="17.9" rx="1.5" ry="0.6" fill="#7a3ab0" opacity="0.5"/><ellipse cx="15.8" cy="22.8" rx="0.9" ry="0.9" fill="#e09050" opacity="0.5"/><ellipse cx="10.1" cy="20.0" rx="1.4" ry="0.6" fill="#e09050" opacity="0.5"/><ellipse cx="18.8" cy="17.2" rx="1.5" ry="1.6" fill="#7a3ab0" opacity="0.5"/><ellipse cx="18.9" cy="12.3" rx="0.8" ry="1.6" fill="#7a3ab0" opacity="0.5"/><ellipse cx="15.1" cy="18.2" rx="1.5" ry="1.5" fill="#d08070" opacity="0.5"/><ellipse cx="20.2" cy="17.4" rx="1.5" ry="1.1" fill="#d08070" opacity="0.5"/><ellipse cx="17.8" cy="21.8" rx="1.1" ry="1.1" fill="#d08070" opacity="0.5"/><ellipse cx="15.3" cy="18.3" rx="1.4" ry="1.4" fill="#d08070" opacity="0.5"/><ellipse cx="22.8" cy="17.9" rx="1.1" ry="1.4" fill="#7a3ab0" opacity="0.5"/><ellipse cx="21.7" cy="15.1" rx="0.9" ry="1.1" fill="#7a3ab0" opacity="0.5"/><ellipse cx="20.7" cy="13.5" rx="1.2" ry="1.5" fill="#d08070" opacity="0.5"/><ellipse cx="16.9" cy="23.9" rx="0.8" ry="1.6" fill="#d08070" opacity="0.5"/><ellipse cx="20.5" cy="19.6" rx="1.6" ry="1.2" fill="#d08070" opacity="0.5"/><ellipse cx="18.9" cy="15.5" rx="1.4" ry="1.1" fill="#d08070" opacity="0.5"/><ellipse cx="20.9" cy="13.6" rx="0.7" ry="1.1" fill="#e09050" opacity="0.5"/><ellipse cx="16.7" cy="17.8" rx="1.3" ry="1.3" fill="#e09050" opacity="0.5"/><ellipse cx="11.4" cy="16.3" rx="1.2" ry="1.2" fill="#c070e8" opacity="0.5"/><ellipse cx="11.7" cy="19.8" rx="0.6" ry="1.4" fill="#d08070" opacity="0.5"/><ellipse cx="14.9" cy="24.1" rx="1.0" ry="1.5" fill="#d08070" opacity="0.5"/><ellipse cx="13.0" cy="20.6" rx="1.2" ry="1.0" fill="#c070e8" opacity="0.5"/><ellipse cx="15.8" cy="14.0" rx="0.6" ry="0.7" fill="#7a3ab0" opacity="0.5"/><ellipse cx="18.2" cy="15.6" rx="0.9" ry="1.0" fill="#d08070" opacity="0.5"/><ellipse cx="10.1" cy="15.6" rx="0.6" ry="0.9" fill="#c070e8" opacity="0.5"/><ellipse cx="19.4" cy="16.3" rx="0.7" ry="1.1" fill="#d08070" opacity="0.5"/><ellipse cx="47.5" cy="17.5" rx="9" ry="6.8" fill="#9a40d0" transform="rotate(18 47.5 17.5)"/><ellipse cx="47.5" cy="17.5" rx="8" ry="5.9" fill="#e49a4a" transform="rotate(18 47.5 17.5)"/><ellipse cx="48" cy="17.5" rx="6.7" ry="4.8" fill="#f2eeee" transform="rotate(18 48 17.5)"/><ellipse cx="44.5" cy="15.5" rx="2.2" ry="1.6" fill="#e49a4a" opacity="0.6"/><path d="M27.5,3 L34.5,3 L36.2,58 L25.8,58 Z" fill="#6cb0a8"/><path d="M28.5,3 L33.5,3 L35.2,58 L26.8,58 Z" fill="#bccbe4"/><ellipse cx="31.3" cy="5.0" rx="2.3" ry="1.5" fill="#a862dc" opacity="0.63"/><ellipse cx="28.6" cy="5.4" rx="0.9" ry="1.2" fill="#bfe6dc" opacity="0.7"/><ellipse cx="31.3" cy="8.9" rx="2.4" ry="1.5" fill="#a862dc" opacity="0.51"/><ellipse cx="28.5" cy="8.0" rx="0.9" ry="1.2" fill="#bfe6dc" opacity="0.7"/><ellipse cx="31.3" cy="12.8" rx="2.5" ry="1.5" fill="#c070e0" opacity="1.00"/><ellipse cx="33.6" cy="12.4" rx="0.9" ry="1.2" fill="#bfe6dc" opacity="0.7"/><ellipse cx="31.4" cy="16.8" rx="2.6" ry="1.5" fill="#f0c080" opacity="1.00"/><ellipse cx="33.7" cy="17.7" rx="0.9" ry="1.2" fill="#bfe6dc" opacity="0.7"/><ellipse cx="31.3" cy="20.7" rx="2.7" ry="1.5" fill="#f0a050" opacity="1.00"/><ellipse cx="33.8" cy="21.5" rx="0.9" ry="1.2" fill="#bfe6dc" opacity="0.7"/><ellipse cx="30.7" cy="24.6" rx="2.9" ry="1.5" fill="#f8d090" opacity="1.00"/><ellipse cx="34.0" cy="25.1" rx="0.9" ry="1.2" fill="#bfe6dc" opacity="0.7"/><ellipse cx="30.6" cy="28.5" rx="3.0" ry="1.5" fill="#f0b060" opacity="1.00"/><ellipse cx="34.1" cy="28.7" rx="0.9" ry="1.2" fill="#bfe6dc" opacity="0.7"/><ellipse cx="31.1" cy="32.5" rx="3.1" ry="1.5" fill="#ffffff" opacity="1.00"/><ellipse cx="27.8" cy="32.6" rx="0.9" ry="1.2" fill="#bfe6dc" opacity="0.7"/><ellipse cx="30.9" cy="36.4" rx="3.2" ry="1.5" fill="#f0a860" opacity="1.00"/><ellipse cx="27.7" cy="36.9" rx="0.9" ry="1.2" fill="#bfe6dc" opacity="0.7"/><ellipse cx="31.0" cy="40.3" rx="3.4" ry="1.5" fill="#d070c0" opacity="1.00"/><ellipse cx="34.5" cy="39.8" rx="0.9" ry="1.2" fill="#bfe6dc" opacity="0.7"/><ellipse cx="30.6" cy="44.2" rx="3.5" ry="1.5" fill="#a862dc" opacity="0.53"/><ellipse cx="34.6" cy="43.9" rx="0.9" ry="1.2" fill="#bfe6dc" opacity="0.7"/><ellipse cx="30.6" cy="48.2" rx="3.6" ry="1.5" fill="#a862dc" opacity="0.72"/><ellipse cx="34.7" cy="47.2" rx="0.9" ry="1.2" fill="#bfe6dc" opacity="0.7"/><ellipse cx="30.8" cy="52.1" rx="3.7" ry="1.5" fill="#a862dc" opacity="0.83"/><ellipse cx="34.8" cy="52.9" rx="0.9" ry="1.2" fill="#bfe6dc" opacity="0.7"/><ellipse cx="31.4" cy="56.0" rx="3.8" ry="1.5" fill="#a862dc" opacity="0.54"/><ellipse cx="27.1" cy="55.4" rx="0.9" ry="1.2" fill="#bfe6dc" opacity="0.7"/><ellipse cx="25" cy="58" rx="1.8" ry="5" fill="#c060d0"/><ellipse cx="25" cy="58" rx="1.1" ry="4" fill="#e49a4a"/><ellipse cx="25" cy="71.5" rx="3.2" ry="6.5" fill="#c050d0"/><ellipse cx="25" cy="71.5" rx="2.4" ry="5.6" fill="#e49a4a"/><ellipse cx="25.2" cy="71.5" rx="1.5" ry="4.5" fill="#f2eeee"/><line x1="8" y1="57" x2="15" y2="75" stroke="#8fd0c7" stroke-width="3" stroke-linecap="round"/><path d="M19,79 Q26,88 33,85 Q41,80 47,73 L56,57" fill="none"/><path d="M19,79 Q26,88 33,85 Q41,80 47,73 L56,57" fill="none" stroke="#8fd0c7" stroke-width="2.8" stroke-linecap="round"/><ellipse cx="33" cy="70" rx="7" ry="9" fill="#2e3432"/><ellipse cx="21" cy="87" rx="1.3" ry="1.8" fill="#c060e0"/><ellipse cx="23" cy="95" rx="1.3" ry="1.6" fill="#e49a4a"/><ellipse cx="43.5" cy="86" rx="1.3" ry="2" fill="#e49a4a"/><ellipse cx="44" cy="92" rx="1.2" ry="1.6" fill="#c060e0"/><ellipse cx="20" cy="67" rx="1.2" ry="1.2" fill="#a060e0"/><ellipse cx="43" cy="68" rx="1.2" ry="1.4" fill="#d06090"/><ellipse cx="30" cy="96" rx="3" ry="5" fill="#4a7a72" opacity="0.6"/></g></svg>
<svg class="chart" width="520" height="200" viewBox="0 170 520 200" style="left:0;top:170px"><rect x="135" y="261.46" width="30.00" height="80.34" fill="#2c4a7e"/><rect x="166" y="304.75" width="30.00" height="37.05" fill="#a5002c"/><line x1="150.00" x2="150.00" y1="221.68" y2="300.85" stroke="#000" stroke-width="1.5"/><line x1="181.00" x2="181.00" y1="292.66" y2="315.28" stroke="#000" stroke-width="1.5"/><rect x="211.3" y="260.68" width="29.90" height="81.12" fill="#2c4a7e"/><rect x="241.8" y="282.91" width="30.20" height="58.89" fill="#a5002c"/><line x1="226.25" x2="226.25" y1="235.72" y2="283.69" stroke="#000" stroke-width="1.5"/><line x1="256.90" x2="256.90" y1="274.72" y2="289.15" stroke="#000" stroke-width="1.5"/><rect x="287.3" y="309.82" width="29.90" height="31.98" fill="#2c4a7e"/><rect x="317.9" y="286.42" width="30.10" height="55.38" fill="#a5002c"/><line x1="302.25" x2="302.25" y1="282.13" y2="337.12" stroke="#000" stroke-width="1.5"/><line x1="332.95" x2="332.95" y1="269.26" y2="302.80" stroke="#000" stroke-width="1.5"/><rect x="363.2" y="249.76" width="30.00" height="92.04" fill="#2c4a7e"/><rect x="393.8" y="303.97" width="30.20" height="37.83" fill="#a5002c"/><line x1="378.20" x2="378.20" y1="213.49" y2="284.86" stroke="#000" stroke-width="1.5"/><line x1="408.90" x2="408.90" y1="296.17" y2="310.60" stroke="#000" stroke-width="1.5"/><rect x="439" y="268.87" width="30.30" height="72.93" fill="#2c4a7e"/><rect x="470" y="287.20" width="30.00" height="54.60" fill="#a5002c"/><line x1="454.15" x2="454.15" y1="232.21" y2="303.97" stroke="#000" stroke-width="1.5"/><line x1="485.00" x2="485.00" y1="273.94" y2="300.46" stroke="#000" stroke-width="1.5"/><line x1="127.8" x2="127.8" y1="181.5" y2="342.5" stroke="#000" stroke-width="1.5"/><line x1="123" x2="127.8" y1="341.80" y2="341.80" stroke="#000" stroke-width="1.3"/><text x="118.6" y="345.00" text-anchor="end" class="tick">0</text><line x1="123" x2="127.8" y1="302.80" y2="302.80" stroke="#000" stroke-width="1.3"/><text x="118.6" y="306.00" text-anchor="end" class="tick">1</text><line x1="123" x2="127.8" y1="263.80" y2="263.80" stroke="#000" stroke-width="1.3"/><text x="118.6" y="267.00" text-anchor="end" class="tick">2</text><line x1="123" x2="127.8" y1="224.80" y2="224.80" stroke="#000" stroke-width="1.3"/><text x="118.6" y="228.00" text-anchor="end" class="tick">3</text><line x1="123" x2="127.8" y1="185.80" y2="185.80" stroke="#000" stroke-width="1.3"/><text x="118.6" y="189.00" text-anchor="end" class="tick">4</text><line x1="123" x2="199.3" y1="341.8" y2="341.8" stroke="#000" stroke-width="1.6"/><line x1="209.3" x2="275.3" y1="341.8" y2="341.8" stroke="#000" stroke-width="1.6"/><line x1="285.3" x2="350.9" y1="341.8" y2="341.8" stroke="#000" stroke-width="1.6"/><line x1="361.2" x2="426.8" y1="341.8" y2="341.8" stroke="#000" stroke-width="1.6"/><line x1="437.2" x2="504.5" y1="341.8" y2="341.8" stroke="#000" stroke-width="1.6"/><text transform="translate(165.5,354.3) scale(0.93,1)" x="0" y="0" text-anchor="middle" class="arm">Arm 1</text><text transform="translate(241.5,354.3) scale(0.93,1)" x="0" y="0" text-anchor="middle" class="arm">Arm 2</text><text transform="translate(317.6,354.3) scale(0.93,1)" x="0" y="0" text-anchor="middle" class="arm">Arm 3</text><text transform="translate(393.6,354.3) scale(0.93,1)" x="0" y="0" text-anchor="middle" class="arm">Arm 4</text><text transform="translate(469.5,354.3) scale(0.93,1)" x="0" y="0" text-anchor="middle" class="arm">Arm 5</text><rect x="428.2" y="185.8" width="16.7" height="7.2" fill="#2c4a7e"/><rect x="428.2" y="199.3" width="16.7" height="7.4" fill="#a5002c"/><text x="449.5" y="192.3" class="leg">Tumor</text><text x="449.5" y="205.8" class="leg">Red marrrow</text><g transform="translate(90.9,262) rotate(-90) scale(0.70,1)"><text x="0" y="0" text-anchor="middle" class="ylab">Absorbed dose per injected activity</text></g><g transform="translate(106.5,261.5) rotate(-90) scale(0.745,1)"><text x="0" y="0" text-anchor="middle" class="ylab">(mGy/MBq)</text></g></svg>
<div class="cap">Mean PK parameters</div>
<div class="hr" style="top:369.85px"></div><div class="hr" style="top:389.85px"></div><div class="hr" style="top:420.85px"></div><div class="hr" style="top:451.85px"></div><div class="hr" style="top:470.85px"></div><div class="hr" style="top:490.85px"></div><div class="hr" style="top:509.85px"></div><div class="hr" style="top:528.85px"></div><div class="hr" style="top:548.85px"></div><div class="hr" style="top:567.85px"></div><div class="vr" style="left:9.85px"></div><div class="vr" style="left:126.85px"></div><div class="vr" style="left:203.85px"></div><div class="vr" style="left:279.85px"></div><div class="vr" style="left:356.85px"></div><div class="vr" style="left:432.85px"></div><div class="vr" style="left:509.85px"></div><div class="pcell" style="top:376.4px">t<span class="sb">max</span>, h</div><div class="vcell" style="top:375.0px;left:134.8px">0.269</div><div class="vcell" style="top:375.0px;left:211.4px">0.278</div><div class="vcell" style="top:375.0px;left:286.8px">0.375</div><div class="vcell" style="top:375.0px;left:363.4px">0.395</div><div class="vcell" style="top:375.0px;left:438.9px">0.200</div><div class="pcell" style="top:395.9px">Activity-adjusted C<span class="sb">max</span>,<br>KBq/mL/MBq</div><div class="vcell" style="top:394.5px;left:134.8px">0.202</div><div class="vcell" style="top:394.5px;left:211.4px">0.189</div><div class="vcell" style="top:394.5px;left:286.8px">0.252</div><div class="vcell" style="top:394.5px;left:363.4px">0.243</div><div class="vcell" style="top:394.5px;left:438.9px">0.187</div><div class="pcell" style="top:426.8px">Activity-adjusted AUC<span class="sb">0-&#8734;</span>,<br>h*KBq/mL/MBq</div><div class="vcell" style="top:425.40000000000003px;left:134.8px">8.34</div><div class="vcell" style="top:425.40000000000003px;left:211.4px">4.62</div><div class="vcell" style="top:425.40000000000003px;left:286.8px">6.08</div><div class="vcell" style="top:425.40000000000003px;left:363.4px">12.7</div><div class="vcell" style="top:425.40000000000003px;left:438.9px">6.63</div><div class="pcell" style="top:457.7px">Clearance, mL/h</div><div class="vcell" style="top:456.3px;left:134.8px">125</div><div class="vcell" style="top:456.3px;left:211.4px">229</div><div class="vcell" style="top:456.3px;left:286.8px">171</div><div class="vcell" style="top:456.3px;left:363.4px">83.7</div><div class="vcell" style="top:456.3px;left:438.9px">163</div><div class="pcell" style="top:477.2px">V<span class="sb">z</span>, L</div><div class="vcell" style="top:475.8px;left:134.8px">11.0</div><div class="vcell" style="top:475.8px;left:211.4px">19.1</div><div class="vcell" style="top:475.8px;left:286.8px">13.4</div><div class="vcell" style="top:475.8px;left:363.4px">5.76</div><div class="vcell" style="top:475.8px;left:438.9px">11.4</div><div class="pcell" style="top:496.7px">V<span class="sb">ss</span>, L</div><div class="vcell" style="top:495.3px;left:134.8px">6.34</div><div class="vcell" style="top:495.3px;left:211.4px">8.82</div><div class="vcell" style="top:495.3px;left:286.8px">5.94</div><div class="vcell" style="top:495.3px;left:363.4px">4.87</div><div class="vcell" style="top:495.3px;left:438.9px">6.24</div><div class="pcell" style="top:516.2px">t<span class="sb">b</span>, h</div><div class="vcell" style="top:514.8px;left:134.8px">44.7</div><div class="vcell" style="top:514.8px;left:211.4px">31.4</div><div class="vcell" style="top:514.8px;left:286.8px">27.7</div><div class="vcell" style="top:514.8px;left:363.4px">55.7</div><div class="vcell" style="top:514.8px;left:438.9px">33.6</div><div class="pcell" style="top:535.4px">t<span class="sb">e</span>, h</div><div class="vcell" style="top:534.0px;left:134.8px">34.9</div><div class="vcell" style="top:534.0px;left:211.4px">26.2</div><div class="vcell" style="top:534.0px;left:286.8px">23.6</div><div class="vcell" style="top:534.0px;left:363.4px">41.1</div><div class="vcell" style="top:534.0px;left:438.9px">27.6</div><div class="pcell" style="top:554.6px">t<span class="sb">(1/2,z)</span>, h</div><div class="vcell" style="top:553.2px;left:134.8px">60.1</div><div class="vcell" style="top:553.2px;left:211.4px">58.5</div><div class="vcell" style="top:553.2px;left:286.8px">53.0</div><div class="vcell" style="top:553.2px;left:363.4px">48.1</div><div class="vcell" style="top:553.2px;left:438.9px">46.3</div>
<div class="foot"><div>AUC, area under the concentration-time curve; C<span class="sb">max</span>, maximum serum concentration; t<span class="sb">b</span>, biological half-life; t<span class="sb">e</span>, effective half-life;</div><div>t<span class="sb">max</span>, time to maximum serum concentration; t<span class="sb">(1/2, z)</span>, terminal elimination half-life; V<span class="sb">ss</span>, volume of distribution at steady-state;</div><div>V<span class="sb">z</span>, volume of distribution based on the terminal phase</div><div>The index patient is included in Arm 3 for PK and for dosimetry. T<span class="sb">e</span> was calculated from mean residence time.</div></div>
<div class="frame"></div>
</body></html>
